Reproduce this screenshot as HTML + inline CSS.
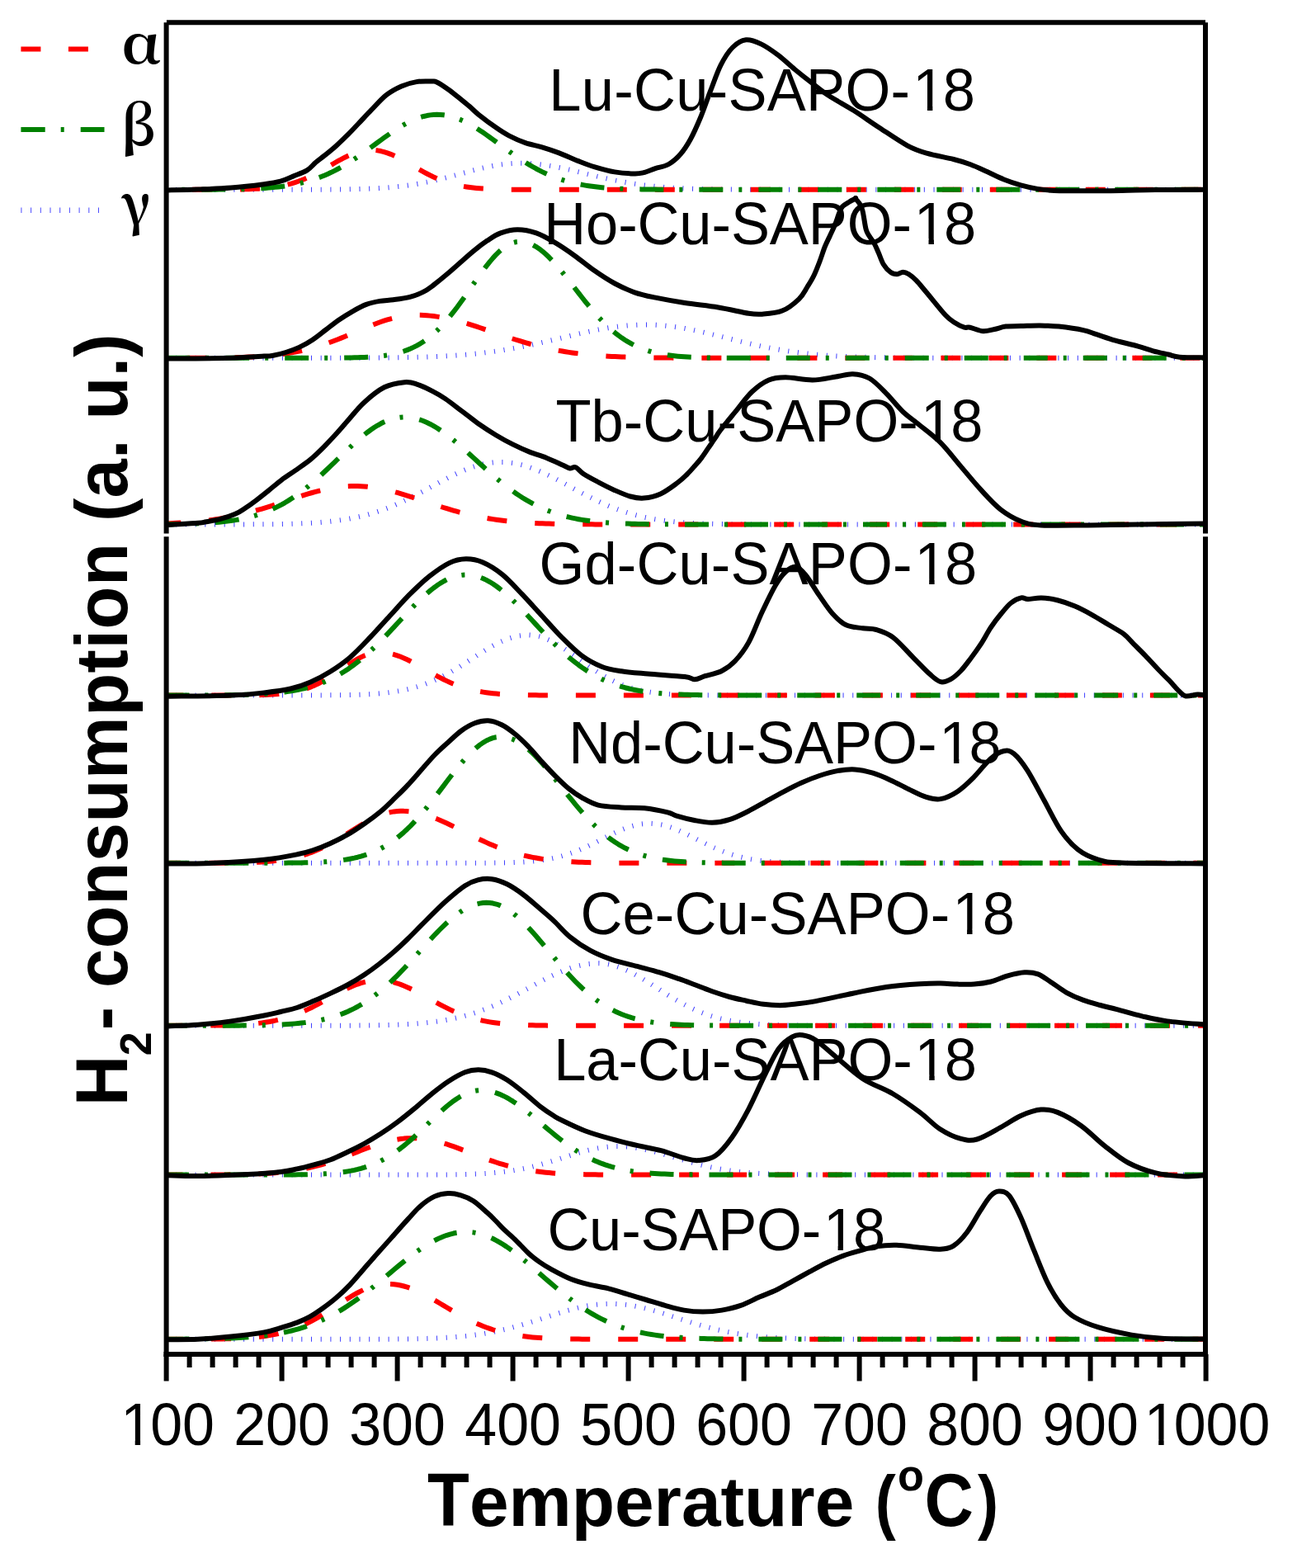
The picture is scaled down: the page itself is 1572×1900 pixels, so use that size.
<!DOCTYPE html><html><head><meta charset="utf-8"><style>html,body{margin:0;padding:0;background:#fff;}svg{display:block;}</style></head><body>
<svg width="1572" height="1900" viewBox="0 0 1572 1900">
<rect width="1572" height="1900" fill="#fff"/>
<g fill="none" stroke-linecap="butt" stroke-linejoin="round">
<path d="M201.5,229.80 L241.5,229.80 L281.5,229.80 L321.5,229.80 L325.5,229.80 L329.5,229.80 L333.5,229.79 L337.5,229.79 L341.5,229.79 L345.5,229.79 L349.5,229.79 L353.5,229.78 L357.5,229.78 L361.5,229.77 L365.5,229.77 L369.5,229.76 L373.5,229.75 L377.5,229.74 L381.5,229.73 L385.5,229.71 L389.5,229.70 L393.5,229.68 L397.5,229.65 L401.5,229.62 L405.5,229.58 L409.5,229.54 L413.5,229.49 L417.5,229.44 L421.5,229.37 L425.5,229.29 L429.5,229.21 L433.5,229.11 L437.5,228.99 L441.5,228.86 L445.5,228.71 L449.5,228.54 L453.5,228.34 L457.5,228.13 L461.5,227.89 L465.5,227.61 L469.5,227.31 L473.5,226.98 L477.5,226.61 L481.5,226.21 L485.5,225.77 L489.5,225.28 L493.5,224.76 L497.5,224.19 L501.5,223.58 L505.5,222.92 L509.5,222.22 L513.5,221.47 L517.5,220.68 L521.5,219.84 L525.5,218.97 L529.5,218.05 L533.5,217.09 L537.5,216.10 L541.5,215.08 L545.5,214.04 L549.5,212.97 L553.5,211.89 L557.5,210.80 L561.5,209.71 L565.5,208.62 L569.5,207.54 L573.5,206.48 L577.5,205.45 L581.5,204.46 L585.5,203.51 L589.5,202.60 L593.5,201.76 L597.5,200.98 L601.5,200.28 L605.5,199.65 L609.5,199.11 L613.5,198.65 L617.5,198.29 L621.5,198.03 L625.5,197.86 L629.5,197.80 L633.5,197.83 L637.5,197.94 L641.5,198.13 L645.5,198.40 L649.5,198.74 L653.5,199.15 L657.5,199.64 L661.5,200.19 L665.5,200.80 L669.5,201.47 L673.5,202.20 L677.5,202.97 L681.5,203.79 L685.5,204.64 L689.5,205.53 L693.5,206.45 L697.5,207.38 L701.5,208.34 L705.5,209.30 L709.5,210.27 L713.5,211.24 L717.5,212.21 L721.5,213.16 L725.5,214.11 L729.5,215.03 L733.5,215.94 L737.5,216.83 L741.5,217.68 L745.5,218.51 L749.5,219.31 L753.5,220.08 L757.5,220.81 L761.5,221.51 L765.5,222.18 L769.5,222.80 L773.5,223.40 L777.5,223.95 L781.5,224.47 L785.5,224.96 L789.5,225.41 L793.5,225.84 L797.5,226.23 L801.5,226.58 L805.5,226.92 L809.5,227.22 L813.5,227.49 L817.5,227.75 L821.5,227.98 L825.5,228.18 L829.5,228.37 L833.5,228.54 L837.5,228.69 L841.5,228.83 L845.5,228.95 L849.5,229.06 L853.5,229.15 L857.5,229.24 L861.5,229.31 L865.5,229.38 L869.5,229.44 L873.5,229.49 L877.5,229.53 L881.5,229.57 L885.5,229.60 L889.5,229.63 L893.5,229.66 L897.5,229.68 L901.5,229.70 L905.5,229.71 L909.5,229.73 L913.5,229.74 L917.5,229.75 L921.5,229.76 L925.5,229.77 L929.5,229.77 L933.5,229.78 L937.5,229.78 L941.5,229.78 L945.5,229.79 L949.5,229.79 L953.5,229.79 L993.5,229.80 L1033.5,229.80 L1073.5,229.80 L1113.5,229.80 L1153.5,229.80 L1193.5,229.80 L1233.5,229.80 L1273.5,229.80 L1313.5,229.80 L1353.5,229.80 L1393.5,229.80 L1433.5,229.80 L1461.0,229.80" stroke="#0000ff" stroke-width="6.0" stroke-dasharray="1 10.7" opacity="0.75"/>
<path d="M201.5,229.80 L241.5,229.79 L281.5,229.64 L285.5,229.59 L289.5,229.52 L293.5,229.44 L297.5,229.34 L301.5,229.22 L305.5,229.06 L309.5,228.87 L313.5,228.64 L317.5,228.37 L321.5,228.03 L325.5,227.64 L329.5,227.17 L333.5,226.62 L337.5,225.98 L341.5,225.24 L345.5,224.40 L349.5,223.43 L353.5,222.35 L357.5,221.13 L361.5,219.78 L365.5,218.29 L369.5,216.67 L373.5,214.91 L377.5,213.02 L381.5,211.02 L385.5,208.91 L389.5,206.72 L393.5,204.45 L397.5,202.14 L401.5,199.81 L405.5,197.50 L409.5,195.22 L413.5,193.03 L417.5,190.94 L421.5,189.00 L425.5,187.23 L429.5,185.67 L433.5,184.34 L437.5,183.28 L441.5,182.49 L445.5,181.99 L449.5,181.80 L453.5,181.92 L457.5,182.34 L461.5,183.05 L465.5,184.05 L469.5,185.32 L473.5,186.82 L477.5,188.54 L481.5,190.44 L485.5,192.49 L489.5,194.67 L493.5,196.92 L497.5,199.23 L501.5,201.56 L505.5,203.88 L509.5,206.16 L513.5,208.37 L517.5,210.50 L521.5,212.53 L525.5,214.45 L529.5,216.24 L533.5,217.90 L537.5,219.42 L541.5,220.80 L545.5,222.05 L549.5,223.17 L553.5,224.17 L557.5,225.04 L561.5,225.81 L565.5,226.47 L569.5,227.04 L573.5,227.53 L577.5,227.94 L581.5,228.29 L585.5,228.58 L589.5,228.82 L593.5,229.02 L597.5,229.18 L601.5,229.31 L605.5,229.42 L609.5,229.50 L613.5,229.57 L617.5,229.62 L621.5,229.67 L625.5,229.70 L629.5,229.72 L633.5,229.74 L637.5,229.76 L641.5,229.77 L645.5,229.78 L649.5,229.78 L653.5,229.79 L693.5,229.80 L733.5,229.80 L773.5,229.80 L813.5,229.80 L853.5,229.80 L893.5,229.80 L933.5,229.80 L973.5,229.80 L1013.5,229.80 L1053.5,229.80 L1093.5,229.80 L1133.5,229.80 L1173.5,229.80 L1213.5,229.80 L1253.5,229.80 L1293.5,229.80 L1333.5,229.80 L1373.5,229.80 L1413.5,229.80 L1453.5,229.80 L1461.0,229.80" stroke="#ff0000" stroke-width="6.0" stroke-dasharray="24 34" stroke-dashoffset="26.4"/>
<path d="M201.5,229.79 L241.5,229.74 L245.5,229.73 L249.5,229.72 L253.5,229.70 L257.5,229.68 L261.5,229.65 L265.5,229.62 L269.5,229.58 L273.5,229.54 L277.5,229.49 L281.5,229.42 L285.5,229.35 L289.5,229.27 L293.5,229.17 L297.5,229.05 L301.5,228.92 L305.5,228.77 L309.5,228.59 L313.5,228.39 L317.5,228.16 L321.5,227.89 L325.5,227.59 L329.5,227.25 L333.5,226.86 L337.5,226.42 L341.5,225.93 L345.5,225.38 L349.5,224.77 L353.5,224.09 L357.5,223.34 L361.5,222.51 L365.5,221.59 L369.5,220.58 L373.5,219.48 L377.5,218.29 L381.5,216.98 L385.5,215.58 L389.5,214.06 L393.5,212.43 L397.5,210.69 L401.5,208.83 L405.5,206.86 L409.5,204.77 L413.5,202.57 L417.5,200.26 L421.5,197.84 L425.5,195.33 L429.5,192.72 L433.5,190.03 L437.5,187.27 L441.5,184.44 L445.5,181.56 L449.5,178.65 L453.5,175.71 L457.5,172.77 L461.5,169.83 L465.5,166.93 L469.5,164.07 L473.5,161.28 L477.5,158.57 L481.5,155.97 L485.5,153.49 L489.5,151.15 L493.5,148.96 L497.5,146.96 L501.5,145.14 L505.5,143.53 L509.5,142.14 L513.5,140.98 L517.5,140.06 L521.5,139.38 L525.5,138.96 L529.5,138.80 L533.5,138.90 L537.5,139.25 L541.5,139.86 L545.5,140.72 L549.5,141.82 L553.5,143.16 L557.5,144.72 L561.5,146.48 L565.5,148.44 L569.5,150.58 L573.5,152.89 L577.5,155.34 L581.5,157.91 L585.5,160.60 L589.5,163.37 L593.5,166.21 L597.5,169.11 L601.5,172.03 L605.5,174.97 L609.5,177.91 L613.5,180.84 L617.5,183.72 L621.5,186.56 L625.5,189.35 L629.5,192.06 L633.5,194.68 L637.5,197.22 L641.5,199.66 L645.5,202.00 L649.5,204.23 L653.5,206.34 L657.5,208.35 L661.5,210.23 L665.5,212.01 L669.5,213.66 L673.5,215.21 L677.5,216.64 L681.5,217.97 L685.5,219.19 L689.5,220.32 L693.5,221.35 L697.5,222.28 L701.5,223.14 L705.5,223.91 L709.5,224.61 L713.5,225.24 L717.5,225.80 L721.5,226.31 L725.5,226.75 L729.5,227.15 L733.5,227.51 L737.5,227.82 L741.5,228.09 L745.5,228.33 L749.5,228.54 L753.5,228.73 L757.5,228.89 L761.5,229.02 L765.5,229.14 L769.5,229.24 L773.5,229.33 L777.5,229.41 L781.5,229.47 L785.5,229.53 L789.5,229.57 L793.5,229.61 L797.5,229.64 L801.5,229.67 L805.5,229.69 L809.5,229.71 L813.5,229.73 L817.5,229.74 L821.5,229.75 L825.5,229.76 L829.5,229.77 L833.5,229.77 L873.5,229.80 L913.5,229.80 L953.5,229.80 L993.5,229.80 L1033.5,229.80 L1073.5,229.80 L1113.5,229.80 L1153.5,229.80 L1193.5,229.80 L1233.5,229.80 L1273.5,229.80 L1313.5,229.80 L1353.5,229.80 L1393.5,229.80 L1433.5,229.80 L1461.0,229.80" stroke="#008000" stroke-width="6.0" stroke-dasharray="29 19 4 20" stroke-dashoffset="29.2"/>
<path d="M201.5,433.80 L241.5,433.80 L281.5,433.80 L321.5,433.80 L361.5,433.79 L401.5,433.76 L405.5,433.76 L409.5,433.75 L413.5,433.74 L417.5,433.73 L421.5,433.72 L425.5,433.71 L429.5,433.70 L433.5,433.69 L437.5,433.67 L441.5,433.65 L445.5,433.63 L449.5,433.61 L453.5,433.58 L457.5,433.55 L461.5,433.52 L465.5,433.48 L469.5,433.44 L473.5,433.40 L477.5,433.35 L481.5,433.29 L485.5,433.23 L489.5,433.16 L493.5,433.08 L497.5,433.00 L501.5,432.91 L505.5,432.80 L509.5,432.69 L513.5,432.57 L517.5,432.44 L521.5,432.29 L525.5,432.14 L529.5,431.96 L533.5,431.78 L537.5,431.57 L541.5,431.36 L545.5,431.12 L549.5,430.87 L553.5,430.59 L557.5,430.30 L561.5,429.99 L565.5,429.65 L569.5,429.29 L573.5,428.91 L577.5,428.50 L581.5,428.07 L585.5,427.62 L589.5,427.13 L593.5,426.63 L597.5,426.09 L601.5,425.53 L605.5,424.93 L609.5,424.32 L613.5,423.67 L617.5,422.99 L621.5,422.29 L625.5,421.57 L629.5,420.81 L633.5,420.03 L637.5,419.23 L641.5,418.40 L645.5,417.56 L649.5,416.69 L653.5,415.80 L657.5,414.90 L661.5,413.98 L665.5,413.04 L669.5,412.10 L673.5,411.15 L677.5,410.20 L681.5,409.24 L685.5,408.28 L689.5,407.32 L693.5,406.38 L697.5,405.44 L701.5,404.51 L705.5,403.60 L709.5,402.71 L713.5,401.85 L717.5,401.01 L721.5,400.20 L725.5,399.42 L729.5,398.68 L733.5,397.98 L737.5,397.32 L741.5,396.70 L745.5,396.13 L749.5,395.62 L753.5,395.15 L757.5,394.74 L761.5,394.39 L765.5,394.09 L769.5,393.85 L773.5,393.67 L777.5,393.56 L781.5,393.50 L785.5,393.51 L789.5,393.59 L793.5,393.74 L797.5,393.95 L801.5,394.23 L805.5,394.57 L809.5,394.98 L813.5,395.44 L817.5,395.97 L821.5,396.55 L825.5,397.19 L829.5,397.87 L833.5,398.61 L837.5,399.38 L841.5,400.20 L845.5,401.05 L849.5,401.94 L853.5,402.85 L857.5,403.79 L861.5,404.75 L865.5,405.73 L869.5,406.72 L873.5,407.72 L877.5,408.73 L881.5,409.73 L885.5,410.74 L889.5,411.74 L893.5,412.74 L897.5,413.72 L901.5,414.69 L905.5,415.65 L909.5,416.58 L913.5,417.50 L917.5,418.39 L921.5,419.26 L925.5,420.10 L929.5,420.92 L933.5,421.71 L937.5,422.47 L941.5,423.19 L945.5,423.89 L949.5,424.56 L953.5,425.20 L957.5,425.81 L961.5,426.39 L965.5,426.93 L969.5,427.45 L973.5,427.94 L977.5,428.40 L981.5,428.83 L985.5,429.24 L989.5,429.62 L993.5,429.97 L997.5,430.30 L1001.5,430.61 L1005.5,430.90 L1009.5,431.16 L1013.5,431.41 L1017.5,431.63 L1021.5,431.84 L1025.5,432.03 L1029.5,432.20 L1033.5,432.36 L1037.5,432.51 L1041.5,432.64 L1045.5,432.76 L1049.5,432.87 L1053.5,432.97 L1057.5,433.06 L1061.5,433.15 L1065.5,433.22 L1069.5,433.29 L1073.5,433.35 L1077.5,433.40 L1081.5,433.45 L1085.5,433.49 L1089.5,433.53 L1093.5,433.56 L1097.5,433.59 L1101.5,433.62 L1105.5,433.64 L1109.5,433.66 L1113.5,433.68 L1117.5,433.69 L1121.5,433.71 L1125.5,433.72 L1129.5,433.73 L1133.5,433.74 L1137.5,433.75 L1141.5,433.76 L1145.5,433.76 L1149.5,433.77 L1153.5,433.77 L1157.5,433.78 L1161.5,433.78 L1165.5,433.78 L1169.5,433.79 L1173.5,433.79 L1177.5,433.79 L1181.5,433.79 L1185.5,433.79 L1189.5,433.79 L1193.5,433.79 L1233.5,433.80 L1273.5,433.80 L1313.5,433.80 L1353.5,433.80 L1393.5,433.80 L1433.5,433.80 L1461.0,433.80" stroke="#0000ff" stroke-width="6.0" stroke-dasharray="1 10.7" opacity="0.75"/>
<path d="M201.5,433.79 L205.5,433.79 L209.5,433.78 L213.5,433.78 L217.5,433.77 L221.5,433.77 L225.5,433.76 L229.5,433.75 L233.5,433.74 L237.5,433.72 L241.5,433.71 L245.5,433.69 L249.5,433.67 L253.5,433.64 L257.5,433.61 L261.5,433.57 L265.5,433.52 L269.5,433.47 L273.5,433.41 L277.5,433.34 L281.5,433.26 L285.5,433.16 L289.5,433.05 L293.5,432.92 L297.5,432.78 L301.5,432.61 L305.5,432.43 L309.5,432.21 L313.5,431.97 L317.5,431.70 L321.5,431.40 L325.5,431.06 L329.5,430.68 L333.5,430.25 L337.5,429.79 L341.5,429.27 L345.5,428.70 L349.5,428.08 L353.5,427.40 L357.5,426.67 L361.5,425.87 L365.5,425.00 L369.5,424.07 L373.5,423.08 L377.5,422.01 L381.5,420.88 L385.5,419.68 L389.5,418.42 L393.5,417.09 L397.5,415.70 L401.5,414.25 L405.5,412.74 L409.5,411.19 L413.5,409.59 L417.5,407.95 L421.5,406.29 L425.5,404.60 L429.5,402.90 L433.5,401.20 L437.5,399.50 L441.5,397.82 L445.5,396.16 L449.5,394.55 L453.5,392.98 L457.5,391.48 L461.5,390.05 L465.5,388.70 L469.5,387.45 L473.5,386.30 L477.5,385.27 L481.5,384.36 L485.5,383.57 L489.5,382.93 L493.5,382.42 L497.5,382.07 L501.5,381.86 L505.5,381.80 L509.5,381.86 L513.5,382.02 L517.5,382.28 L521.5,382.63 L525.5,383.08 L529.5,383.61 L533.5,384.24 L537.5,384.95 L541.5,385.74 L545.5,386.60 L549.5,387.54 L553.5,388.55 L557.5,389.61 L561.5,390.74 L565.5,391.91 L569.5,393.13 L573.5,394.39 L577.5,395.68 L581.5,397.00 L585.5,398.34 L589.5,399.70 L593.5,401.06 L597.5,402.43 L601.5,403.80 L605.5,405.17 L609.5,406.52 L613.5,407.86 L617.5,409.18 L621.5,410.48 L625.5,411.75 L629.5,412.99 L633.5,414.19 L637.5,415.37 L641.5,416.50 L645.5,417.60 L649.5,418.65 L653.5,419.67 L657.5,420.64 L661.5,421.56 L665.5,422.45 L669.5,423.29 L673.5,424.08 L677.5,424.83 L681.5,425.54 L685.5,426.21 L689.5,426.84 L693.5,427.43 L697.5,427.97 L701.5,428.49 L705.5,428.96 L709.5,429.40 L713.5,429.81 L717.5,430.19 L721.5,430.54 L725.5,430.86 L729.5,431.15 L733.5,431.42 L737.5,431.67 L741.5,431.89 L745.5,432.09 L749.5,432.28 L753.5,432.45 L757.5,432.60 L761.5,432.73 L765.5,432.86 L769.5,432.97 L773.5,433.06 L777.5,433.15 L781.5,433.23 L785.5,433.30 L789.5,433.36 L793.5,433.42 L797.5,433.47 L801.5,433.51 L805.5,433.55 L809.5,433.58 L813.5,433.61 L817.5,433.64 L821.5,433.66 L825.5,433.68 L829.5,433.70 L833.5,433.71 L837.5,433.72 L841.5,433.74 L845.5,433.74 L849.5,433.75 L853.5,433.76 L857.5,433.77 L861.5,433.77 L865.5,433.78 L869.5,433.78 L873.5,433.78 L913.5,433.80 L953.5,433.80 L993.5,433.80 L1033.5,433.80 L1073.5,433.80 L1113.5,433.80 L1153.5,433.80 L1193.5,433.80 L1233.5,433.80 L1273.5,433.80 L1313.5,433.80 L1353.5,433.80 L1393.5,433.80 L1433.5,433.80 L1461.0,433.80" stroke="#ff0000" stroke-width="6.0" stroke-dasharray="24 34" stroke-dashoffset="32.9"/>
<path d="M201.5,433.80 L241.5,433.80 L281.5,433.80 L321.5,433.80 L361.5,433.80 L401.5,433.72 L405.5,433.70 L409.5,433.67 L413.5,433.63 L417.5,433.59 L421.5,433.53 L425.5,433.45 L429.5,433.36 L433.5,433.25 L437.5,433.11 L441.5,432.94 L445.5,432.74 L449.5,432.49 L453.5,432.19 L457.5,431.84 L461.5,431.41 L465.5,430.91 L469.5,430.31 L473.5,429.62 L477.5,428.81 L481.5,427.86 L485.5,426.77 L489.5,425.52 L493.5,424.10 L497.5,422.47 L501.5,420.64 L505.5,418.58 L509.5,416.28 L513.5,413.73 L517.5,410.91 L521.5,407.81 L525.5,404.42 L529.5,400.75 L533.5,396.79 L537.5,392.55 L541.5,388.02 L545.5,383.24 L549.5,378.21 L553.5,372.97 L557.5,367.53 L561.5,361.94 L565.5,356.23 L569.5,350.45 L573.5,344.66 L577.5,338.90 L581.5,333.23 L585.5,327.71 L589.5,322.40 L593.5,317.36 L597.5,312.65 L601.5,308.33 L605.5,304.45 L609.5,301.06 L613.5,298.21 L617.5,295.93 L621.5,294.26 L625.5,293.21 L629.5,292.81 L633.5,293.00 L637.5,293.71 L641.5,294.92 L645.5,296.64 L649.5,298.82 L653.5,301.46 L657.5,304.52 L661.5,307.98 L665.5,311.79 L669.5,315.92 L673.5,320.33 L677.5,324.97 L681.5,329.81 L685.5,334.79 L689.5,339.88 L693.5,345.04 L697.5,350.22 L701.5,355.39 L705.5,360.51 L709.5,365.54 L713.5,370.46 L717.5,375.25 L721.5,379.87 L725.5,384.30 L729.5,388.54 L733.5,392.57 L737.5,396.38 L741.5,399.96 L745.5,403.31 L749.5,406.43 L753.5,409.32 L757.5,411.98 L761.5,414.43 L765.5,416.66 L769.5,418.69 L773.5,420.54 L777.5,422.19 L781.5,423.68 L785.5,425.01 L789.5,426.20 L793.5,427.24 L797.5,428.17 L801.5,428.98 L805.5,429.69 L809.5,430.31 L813.5,430.84 L817.5,431.31 L821.5,431.71 L825.5,432.05 L829.5,432.34 L833.5,432.58 L837.5,432.79 L841.5,432.97 L845.5,433.12 L849.5,433.24 L853.5,433.34 L857.5,433.43 L861.5,433.50 L865.5,433.56 L869.5,433.61 L873.5,433.64 L877.5,433.68 L881.5,433.70 L885.5,433.72 L889.5,433.74 L893.5,433.75 L897.5,433.76 L937.5,433.80 L977.5,433.80 L1017.5,433.80 L1057.5,433.80 L1097.5,433.80 L1137.5,433.80 L1177.5,433.80 L1217.5,433.80 L1257.5,433.80 L1297.5,433.80 L1337.5,433.80 L1377.5,433.80 L1417.5,433.80 L1457.5,433.80 L1461.0,433.80" stroke="#008000" stroke-width="6.0" stroke-dasharray="29 19 4 20" stroke-dashoffset="0.3"/>
<path d="M201.5,635.50 L241.5,635.49 L281.5,635.46 L285.5,635.45 L289.5,635.44 L293.5,635.43 L297.5,635.41 L301.5,635.40 L305.5,635.38 L309.5,635.36 L313.5,635.33 L317.5,635.30 L321.5,635.27 L325.5,635.23 L329.5,635.18 L333.5,635.12 L337.5,635.06 L341.5,634.99 L345.5,634.91 L349.5,634.81 L353.5,634.71 L357.5,634.58 L361.5,634.45 L365.5,634.29 L369.5,634.11 L373.5,633.91 L377.5,633.69 L381.5,633.44 L385.5,633.17 L389.5,632.86 L393.5,632.51 L397.5,632.13 L401.5,631.71 L405.5,631.25 L409.5,630.74 L413.5,630.18 L417.5,629.57 L421.5,628.91 L425.5,628.19 L429.5,627.40 L433.5,626.56 L437.5,625.64 L441.5,624.66 L445.5,623.61 L449.5,622.48 L453.5,621.28 L457.5,620.01 L461.5,618.66 L465.5,617.23 L469.5,615.73 L473.5,614.15 L477.5,612.49 L481.5,610.77 L485.5,608.98 L489.5,607.12 L493.5,605.20 L497.5,603.22 L501.5,601.19 L505.5,599.12 L509.5,597.01 L513.5,594.86 L517.5,592.70 L521.5,590.52 L525.5,588.34 L529.5,586.17 L533.5,584.01 L537.5,581.88 L541.5,579.79 L545.5,577.75 L549.5,575.77 L553.5,573.86 L557.5,572.03 L561.5,570.30 L565.5,568.67 L569.5,567.16 L573.5,565.77 L577.5,564.52 L581.5,563.40 L585.5,562.43 L589.5,561.62 L593.5,560.97 L597.5,560.48 L601.5,560.16 L605.5,560.01 L609.5,560.03 L613.5,560.23 L617.5,560.59 L621.5,561.12 L625.5,561.81 L629.5,562.66 L633.5,563.67 L637.5,564.82 L641.5,566.11 L645.5,567.53 L649.5,569.07 L653.5,570.73 L657.5,572.48 L661.5,574.33 L665.5,576.26 L669.5,578.26 L673.5,580.31 L677.5,582.41 L681.5,584.55 L685.5,586.71 L689.5,588.89 L693.5,591.07 L697.5,593.24 L701.5,595.40 L705.5,597.54 L709.5,599.64 L713.5,601.70 L717.5,603.72 L721.5,605.68 L725.5,607.59 L729.5,609.43 L733.5,611.21 L737.5,612.91 L741.5,614.55 L745.5,616.11 L749.5,617.59 L753.5,619.00 L757.5,620.33 L761.5,621.59 L765.5,622.77 L769.5,623.88 L773.5,624.91 L777.5,625.88 L781.5,626.77 L785.5,627.60 L789.5,628.37 L793.5,629.08 L797.5,629.73 L801.5,630.33 L805.5,630.87 L809.5,631.37 L813.5,631.82 L817.5,632.23 L821.5,632.60 L825.5,632.94 L829.5,633.24 L833.5,633.51 L837.5,633.75 L841.5,633.97 L845.5,634.16 L849.5,634.33 L853.5,634.48 L857.5,634.62 L861.5,634.73 L865.5,634.84 L869.5,634.93 L873.5,635.01 L877.5,635.08 L881.5,635.14 L885.5,635.19 L889.5,635.24 L893.5,635.28 L897.5,635.31 L901.5,635.34 L905.5,635.36 L909.5,635.38 L913.5,635.40 L917.5,635.42 L921.5,635.43 L925.5,635.44 L929.5,635.45 L933.5,635.46 L937.5,635.47 L941.5,635.47 L945.5,635.48 L985.5,635.50 L1025.5,635.50 L1065.5,635.50 L1105.5,635.50 L1145.5,635.50 L1185.5,635.50 L1225.5,635.50 L1265.5,635.50 L1305.5,635.50 L1345.5,635.50 L1385.5,635.50 L1425.5,635.50 L1461.0,635.50" stroke="#0000ff" stroke-width="6.0" stroke-dasharray="1 10.7" opacity="0.75"/>
<path d="M201.5,634.35 L205.5,634.19 L209.5,634.02 L213.5,633.82 L217.5,633.60 L221.5,633.36 L225.5,633.10 L229.5,632.81 L233.5,632.49 L237.5,632.13 L241.5,631.75 L245.5,631.33 L249.5,630.88 L253.5,630.39 L257.5,629.85 L261.5,629.28 L265.5,628.67 L269.5,628.01 L273.5,627.30 L277.5,626.55 L281.5,625.75 L285.5,624.91 L289.5,624.02 L293.5,623.08 L297.5,622.10 L301.5,621.07 L305.5,620.00 L309.5,618.88 L313.5,617.73 L317.5,616.53 L321.5,615.31 L325.5,614.05 L329.5,612.77 L333.5,611.46 L337.5,610.14 L341.5,608.81 L345.5,607.46 L349.5,606.12 L353.5,604.78 L357.5,603.46 L361.5,602.15 L365.5,600.87 L369.5,599.62 L373.5,598.41 L377.5,597.25 L381.5,596.14 L385.5,595.09 L389.5,594.10 L393.5,593.19 L397.5,592.35 L401.5,591.60 L405.5,590.94 L409.5,590.36 L413.5,589.89 L417.5,589.51 L421.5,589.24 L425.5,589.07 L429.5,589.00 L433.5,589.04 L437.5,589.18 L441.5,589.43 L445.5,589.78 L449.5,590.24 L453.5,590.78 L457.5,591.43 L461.5,592.16 L465.5,592.97 L469.5,593.87 L473.5,594.84 L477.5,595.87 L481.5,596.97 L485.5,598.12 L489.5,599.32 L493.5,600.56 L497.5,601.83 L501.5,603.13 L505.5,604.45 L509.5,605.79 L513.5,607.13 L517.5,608.47 L521.5,609.81 L525.5,611.13 L529.5,612.44 L533.5,613.73 L537.5,615.00 L541.5,616.23 L545.5,617.43 L549.5,618.60 L553.5,619.72 L557.5,620.81 L561.5,621.85 L565.5,622.84 L569.5,623.79 L573.5,624.69 L577.5,625.55 L581.5,626.36 L585.5,627.12 L589.5,627.83 L593.5,628.51 L597.5,629.13 L601.5,629.72 L605.5,630.26 L609.5,630.76 L613.5,631.22 L617.5,631.65 L621.5,632.04 L625.5,632.40 L629.5,632.73 L633.5,633.03 L637.5,633.30 L641.5,633.55 L645.5,633.77 L649.5,633.97 L653.5,634.15 L657.5,634.31 L661.5,634.46 L665.5,634.59 L669.5,634.70 L673.5,634.80 L677.5,634.89 L681.5,634.97 L685.5,635.04 L689.5,635.11 L693.5,635.16 L697.5,635.21 L701.5,635.25 L705.5,635.29 L709.5,635.32 L713.5,635.34 L717.5,635.37 L721.5,635.39 L725.5,635.40 L729.5,635.42 L733.5,635.43 L737.5,635.44 L741.5,635.45 L745.5,635.46 L749.5,635.47 L753.5,635.47 L757.5,635.48 L761.5,635.48 L765.5,635.48 L769.5,635.49 L809.5,635.50 L849.5,635.50 L889.5,635.50 L929.5,635.50 L969.5,635.50 L1009.5,635.50 L1049.5,635.50 L1089.5,635.50 L1129.5,635.50 L1169.5,635.50 L1209.5,635.50 L1249.5,635.50 L1289.5,635.50 L1329.5,635.50 L1369.5,635.50 L1409.5,635.50 L1449.5,635.50 L1461.0,635.50" stroke="#ff0000" stroke-width="6.0" stroke-dasharray="24 34" stroke-dashoffset="6.1"/>
<path d="M201.5,635.27 L205.5,635.23 L209.5,635.18 L213.5,635.12 L217.5,635.05 L221.5,634.97 L225.5,634.87 L229.5,634.76 L233.5,634.64 L237.5,634.49 L241.5,634.32 L245.5,634.13 L249.5,633.92 L253.5,633.67 L257.5,633.39 L261.5,633.07 L265.5,632.71 L269.5,632.30 L273.5,631.85 L277.5,631.34 L281.5,630.77 L285.5,630.13 L289.5,629.43 L293.5,628.65 L297.5,627.78 L301.5,626.83 L305.5,625.79 L309.5,624.64 L313.5,623.40 L317.5,622.04 L321.5,620.56 L325.5,618.97 L329.5,617.25 L333.5,615.39 L337.5,613.41 L341.5,611.28 L345.5,609.02 L349.5,606.62 L353.5,604.07 L357.5,601.39 L361.5,598.56 L365.5,595.60 L369.5,592.51 L373.5,589.29 L377.5,585.95 L381.5,582.49 L385.5,578.94 L389.5,575.29 L393.5,571.56 L397.5,567.77 L401.5,563.93 L405.5,560.06 L409.5,556.16 L413.5,552.28 L417.5,548.41 L421.5,544.58 L425.5,540.82 L429.5,537.14 L433.5,533.57 L437.5,530.13 L441.5,526.83 L445.5,523.71 L449.5,520.78 L453.5,518.05 L457.5,515.55 L461.5,513.30 L465.5,511.31 L469.5,509.60 L473.5,508.17 L477.5,507.04 L481.5,506.21 L485.5,505.70 L489.5,505.50 L493.5,505.61 L497.5,505.99 L501.5,506.66 L505.5,507.59 L509.5,508.80 L513.5,510.26 L517.5,511.98 L521.5,513.93 L525.5,516.12 L529.5,518.51 L533.5,521.11 L537.5,523.89 L541.5,526.84 L545.5,529.94 L549.5,533.17 L553.5,536.52 L557.5,539.96 L561.5,543.49 L565.5,547.07 L569.5,550.70 L573.5,554.36 L577.5,558.03 L581.5,561.69 L585.5,565.33 L589.5,568.93 L593.5,572.49 L597.5,575.98 L601.5,579.40 L605.5,582.74 L609.5,585.99 L613.5,589.14 L617.5,592.18 L621.5,595.11 L625.5,597.93 L629.5,600.62 L633.5,603.19 L637.5,605.63 L641.5,607.95 L645.5,610.15 L649.5,612.22 L653.5,614.17 L657.5,615.99 L661.5,617.70 L665.5,619.30 L669.5,620.78 L673.5,622.15 L677.5,623.43 L681.5,624.60 L685.5,625.69 L689.5,626.68 L693.5,627.59 L697.5,628.42 L701.5,629.18 L705.5,629.87 L709.5,630.50 L713.5,631.06 L717.5,631.57 L721.5,632.03 L725.5,632.44 L729.5,632.81 L733.5,633.14 L737.5,633.43 L741.5,633.69 L745.5,633.92 L749.5,634.13 L753.5,634.31 L757.5,634.47 L761.5,634.61 L765.5,634.73 L769.5,634.84 L773.5,634.93 L777.5,635.01 L781.5,635.08 L785.5,635.15 L789.5,635.20 L793.5,635.24 L797.5,635.28 L801.5,635.32 L805.5,635.34 L809.5,635.37 L813.5,635.39 L817.5,635.41 L821.5,635.42 L825.5,635.44 L829.5,635.45 L833.5,635.46 L837.5,635.46 L877.5,635.49 L917.5,635.50 L957.5,635.50 L997.5,635.50 L1037.5,635.50 L1077.5,635.50 L1117.5,635.50 L1157.5,635.50 L1197.5,635.50 L1237.5,635.50 L1277.5,635.50 L1317.5,635.50 L1357.5,635.50 L1397.5,635.50 L1437.5,635.50 L1461.0,635.50" stroke="#008000" stroke-width="6.0" stroke-dasharray="29 19 4 20" stroke-dashoffset="12.6"/>
<path d="M201.5,842.50 L241.5,842.50 L281.5,842.50 L321.5,842.50 L361.5,842.48 L401.5,842.34 L405.5,842.31 L409.5,842.27 L413.5,842.22 L417.5,842.15 L421.5,842.08 L425.5,842.00 L429.5,841.89 L433.5,841.77 L437.5,841.63 L441.5,841.47 L445.5,841.28 L449.5,841.06 L453.5,840.80 L457.5,840.51 L461.5,840.17 L465.5,839.79 L469.5,839.35 L473.5,838.86 L477.5,838.30 L481.5,837.67 L485.5,836.97 L489.5,836.20 L493.5,835.33 L497.5,834.38 L501.5,833.33 L505.5,832.18 L509.5,830.92 L513.5,829.56 L517.5,828.09 L521.5,826.51 L525.5,824.81 L529.5,823.01 L533.5,821.09 L537.5,819.06 L541.5,816.93 L545.5,814.71 L549.5,812.39 L553.5,810.00 L557.5,807.53 L561.5,805.01 L565.5,802.44 L569.5,799.85 L573.5,797.25 L577.5,794.65 L581.5,792.08 L585.5,789.55 L589.5,787.09 L593.5,784.72 L597.5,782.45 L601.5,780.31 L605.5,778.32 L609.5,776.49 L613.5,774.84 L617.5,773.39 L621.5,772.15 L625.5,771.14 L629.5,770.37 L633.5,769.83 L637.5,769.55 L641.5,769.52 L645.5,769.80 L649.5,770.38 L653.5,771.27 L657.5,772.44 L661.5,773.90 L665.5,775.61 L669.5,777.56 L673.5,779.72 L677.5,782.07 L681.5,784.58 L685.5,787.23 L689.5,789.98 L693.5,792.81 L697.5,795.69 L701.5,798.59 L705.5,801.48 L709.5,804.35 L713.5,807.18 L717.5,809.93 L721.5,812.60 L725.5,815.17 L729.5,817.62 L733.5,819.95 L737.5,822.15 L741.5,824.21 L745.5,826.14 L749.5,827.93 L753.5,829.57 L757.5,831.08 L761.5,832.46 L765.5,833.71 L769.5,834.83 L773.5,835.84 L777.5,836.75 L781.5,837.55 L785.5,838.25 L789.5,838.88 L793.5,839.42 L797.5,839.90 L801.5,840.31 L805.5,840.66 L809.5,840.96 L813.5,841.22 L817.5,841.44 L821.5,841.63 L825.5,841.78 L829.5,841.91 L833.5,842.02 L837.5,842.11 L841.5,842.19 L845.5,842.25 L849.5,842.30 L853.5,842.34 L857.5,842.37 L861.5,842.40 L865.5,842.42 L869.5,842.44 L873.5,842.45 L877.5,842.46 L881.5,842.47 L885.5,842.48 L889.5,842.48 L893.5,842.49 L897.5,842.49 L901.5,842.49 L905.5,842.49 L909.5,842.50 L913.5,842.50 L953.5,842.50 L993.5,842.50 L1033.5,842.50 L1073.5,842.50 L1113.5,842.50 L1153.5,842.50 L1193.5,842.50 L1233.5,842.50 L1273.5,842.50 L1313.5,842.50 L1353.5,842.50 L1393.5,842.50 L1433.5,842.50 L1461.0,842.50" stroke="#0000ff" stroke-width="6.0" stroke-dasharray="1 10.7" opacity="0.75"/>
<path d="M201.5,842.50 L241.5,842.50 L245.5,842.50 L249.5,842.50 L253.5,842.50 L257.5,842.50 L261.5,842.50 L265.5,842.49 L269.5,842.49 L273.5,842.49 L277.5,842.48 L281.5,842.47 L285.5,842.46 L289.5,842.45 L293.5,842.43 L297.5,842.40 L301.5,842.36 L305.5,842.32 L309.5,842.25 L313.5,842.17 L317.5,842.07 L321.5,841.94 L325.5,841.78 L329.5,841.57 L333.5,841.31 L337.5,841.00 L341.5,840.62 L345.5,840.15 L349.5,839.60 L353.5,838.94 L357.5,838.16 L361.5,837.25 L365.5,836.20 L369.5,834.99 L373.5,833.63 L377.5,832.09 L381.5,830.38 L385.5,828.49 L389.5,826.43 L393.5,824.21 L397.5,821.84 L401.5,819.34 L405.5,816.73 L409.5,814.04 L413.5,811.30 L417.5,808.57 L421.5,805.87 L425.5,803.25 L429.5,800.76 L433.5,798.45 L437.5,796.36 L441.5,794.54 L445.5,793.02 L449.5,791.84 L453.5,791.02 L457.5,790.58 L461.5,790.52 L465.5,790.76 L469.5,791.27 L473.5,792.04 L477.5,793.07 L481.5,794.33 L485.5,795.80 L489.5,797.47 L493.5,799.30 L497.5,801.28 L501.5,803.38 L505.5,805.57 L509.5,807.82 L513.5,810.10 L517.5,812.39 L521.5,814.67 L525.5,816.91 L529.5,819.10 L533.5,821.21 L537.5,823.23 L541.5,825.15 L545.5,826.97 L549.5,828.66 L553.5,830.24 L557.5,831.70 L561.5,833.03 L565.5,834.24 L569.5,835.33 L573.5,836.32 L577.5,837.19 L581.5,837.97 L585.5,838.65 L589.5,839.25 L593.5,839.77 L597.5,840.22 L601.5,840.60 L605.5,840.93 L609.5,841.21 L613.5,841.44 L617.5,841.64 L621.5,841.80 L625.5,841.94 L629.5,842.05 L633.5,842.14 L637.5,842.22 L641.5,842.28 L645.5,842.32 L649.5,842.36 L653.5,842.39 L657.5,842.42 L661.5,842.44 L665.5,842.45 L669.5,842.46 L673.5,842.47 L677.5,842.48 L681.5,842.48 L721.5,842.50 L761.5,842.50 L801.5,842.50 L841.5,842.50 L881.5,842.50 L921.5,842.50 L961.5,842.50 L1001.5,842.50 L1041.5,842.50 L1081.5,842.50 L1121.5,842.50 L1161.5,842.50 L1201.5,842.50 L1241.5,842.50 L1281.5,842.50 L1321.5,842.50 L1361.5,842.50 L1401.5,842.50 L1441.5,842.50 L1461.0,842.50" stroke="#ff0000" stroke-width="6.0" stroke-dasharray="24 34" stroke-dashoffset="3.2"/>
<path d="M201.5,842.49 L241.5,842.44 L245.5,842.43 L249.5,842.41 L253.5,842.39 L257.5,842.37 L261.5,842.35 L265.5,842.31 L269.5,842.28 L273.5,842.24 L277.5,842.19 L281.5,842.13 L285.5,842.06 L289.5,841.98 L293.5,841.89 L297.5,841.79 L301.5,841.66 L305.5,841.52 L309.5,841.36 L313.5,841.18 L317.5,840.96 L321.5,840.72 L325.5,840.45 L329.5,840.14 L333.5,839.79 L337.5,839.39 L341.5,838.94 L345.5,838.44 L349.5,837.88 L353.5,837.25 L357.5,836.56 L361.5,835.79 L365.5,834.93 L369.5,833.99 L373.5,832.95 L377.5,831.81 L381.5,830.56 L385.5,829.20 L389.5,827.72 L393.5,826.11 L397.5,824.37 L401.5,822.50 L405.5,820.48 L409.5,818.32 L413.5,816.01 L417.5,813.54 L421.5,810.93 L425.5,808.15 L429.5,805.22 L433.5,802.14 L437.5,798.91 L441.5,795.53 L445.5,792.01 L449.5,788.36 L453.5,784.58 L457.5,780.68 L461.5,776.67 L465.5,772.58 L469.5,768.40 L473.5,764.16 L477.5,759.88 L481.5,755.57 L485.5,751.25 L489.5,746.94 L493.5,742.67 L497.5,738.46 L501.5,734.32 L505.5,730.29 L509.5,726.39 L513.5,722.63 L517.5,719.05 L521.5,715.66 L525.5,712.49 L529.5,709.56 L533.5,706.88 L537.5,704.48 L541.5,702.37 L545.5,700.57 L549.5,699.09 L553.5,697.93 L557.5,697.11 L561.5,696.63 L565.5,696.50 L569.5,696.72 L573.5,697.28 L577.5,698.19 L581.5,699.43 L585.5,700.99 L589.5,702.87 L593.5,705.06 L597.5,707.53 L601.5,710.27 L605.5,713.26 L609.5,716.49 L613.5,719.93 L617.5,723.56 L621.5,727.35 L625.5,731.29 L629.5,735.35 L633.5,739.50 L637.5,743.73 L641.5,748.02 L645.5,752.33 L649.5,756.65 L653.5,760.95 L657.5,765.23 L661.5,769.45 L665.5,773.61 L669.5,777.68 L673.5,781.66 L677.5,785.53 L681.5,789.28 L685.5,792.91 L689.5,796.39 L693.5,799.73 L697.5,802.93 L701.5,805.97 L705.5,808.86 L709.5,811.59 L713.5,814.17 L717.5,816.60 L721.5,818.87 L725.5,821.00 L729.5,822.98 L733.5,824.82 L737.5,826.53 L741.5,828.10 L745.5,829.55 L749.5,830.88 L753.5,832.10 L757.5,833.22 L761.5,834.23 L765.5,835.15 L769.5,835.99 L773.5,836.74 L777.5,837.42 L781.5,838.03 L785.5,838.57 L789.5,839.06 L793.5,839.49 L797.5,839.88 L801.5,840.22 L805.5,840.52 L809.5,840.79 L813.5,841.02 L817.5,841.23 L821.5,841.40 L825.5,841.56 L829.5,841.70 L833.5,841.81 L837.5,841.92 L841.5,842.00 L845.5,842.08 L849.5,842.14 L853.5,842.20 L857.5,842.25 L861.5,842.29 L865.5,842.32 L869.5,842.35 L873.5,842.38 L877.5,842.40 L881.5,842.42 L885.5,842.43 L889.5,842.44 L893.5,842.45 L933.5,842.49 L973.5,842.50 L1013.5,842.50 L1053.5,842.50 L1093.5,842.50 L1133.5,842.50 L1173.5,842.50 L1213.5,842.50 L1253.5,842.50 L1293.5,842.50 L1333.5,842.50 L1373.5,842.50 L1413.5,842.50 L1453.5,842.50 L1461.0,842.50" stroke="#008000" stroke-width="6.0" stroke-dasharray="29 19 4 20" stroke-dashoffset="1.0"/>
<path d="M201.5,1045.80 L241.5,1045.80 L281.5,1045.80 L321.5,1045.80 L361.5,1045.80 L401.5,1045.80 L441.5,1045.80 L481.5,1045.80 L521.5,1045.80 L561.5,1045.78 L565.5,1045.77 L569.5,1045.77 L573.5,1045.76 L577.5,1045.74 L581.5,1045.73 L585.5,1045.71 L589.5,1045.68 L593.5,1045.65 L597.5,1045.61 L601.5,1045.56 L605.5,1045.50 L609.5,1045.42 L613.5,1045.33 L617.5,1045.22 L621.5,1045.09 L625.5,1044.93 L629.5,1044.74 L633.5,1044.52 L637.5,1044.26 L641.5,1043.95 L645.5,1043.60 L649.5,1043.18 L653.5,1042.71 L657.5,1042.17 L661.5,1041.55 L665.5,1040.85 L669.5,1040.07 L673.5,1039.19 L677.5,1038.22 L681.5,1037.14 L685.5,1035.97 L689.5,1034.69 L693.5,1033.30 L697.5,1031.81 L701.5,1030.22 L705.5,1028.53 L709.5,1026.75 L713.5,1024.90 L717.5,1022.97 L721.5,1021.00 L725.5,1018.98 L729.5,1016.94 L733.5,1014.90 L737.5,1012.88 L741.5,1010.90 L745.5,1008.98 L749.5,1007.14 L753.5,1005.41 L757.5,1003.82 L761.5,1002.37 L765.5,1001.10 L769.5,1000.01 L773.5,999.13 L777.5,998.46 L781.5,998.02 L785.5,997.82 L789.5,997.85 L793.5,998.11 L797.5,998.61 L801.5,999.33 L805.5,1000.26 L809.5,1001.40 L813.5,1002.72 L817.5,1004.20 L821.5,1005.83 L825.5,1007.59 L829.5,1009.45 L833.5,1011.39 L837.5,1013.38 L841.5,1015.41 L845.5,1017.45 L849.5,1019.49 L853.5,1021.50 L857.5,1023.46 L861.5,1025.37 L865.5,1027.21 L869.5,1028.96 L873.5,1030.62 L877.5,1032.19 L881.5,1033.66 L885.5,1035.02 L889.5,1036.27 L893.5,1037.42 L897.5,1038.47 L901.5,1039.42 L905.5,1040.27 L909.5,1041.03 L913.5,1041.71 L917.5,1042.31 L921.5,1042.83 L925.5,1043.29 L929.5,1043.69 L933.5,1044.03 L937.5,1044.33 L941.5,1044.58 L945.5,1044.79 L949.5,1044.98 L953.5,1045.13 L957.5,1045.25 L961.5,1045.36 L965.5,1045.44 L969.5,1045.51 L973.5,1045.57 L977.5,1045.62 L981.5,1045.66 L985.5,1045.69 L989.5,1045.71 L993.5,1045.73 L997.5,1045.75 L1001.5,1045.76 L1005.5,1045.77 L1009.5,1045.78 L1013.5,1045.78 L1017.5,1045.79 L1057.5,1045.80 L1097.5,1045.80 L1137.5,1045.80 L1177.5,1045.80 L1217.5,1045.80 L1257.5,1045.80 L1297.5,1045.80 L1337.5,1045.80 L1377.5,1045.80 L1417.5,1045.80 L1457.5,1045.80 L1461.0,1045.80" stroke="#0000ff" stroke-width="6.0" stroke-dasharray="1 10.7" opacity="0.75"/>
<path d="M201.5,1045.80 L205.5,1045.80 L209.5,1045.80 L213.5,1045.80 L217.5,1045.80 L221.5,1045.79 L225.5,1045.79 L229.5,1045.79 L233.5,1045.79 L237.5,1045.78 L241.5,1045.78 L245.5,1045.77 L249.5,1045.77 L253.5,1045.76 L257.5,1045.74 L261.5,1045.73 L265.5,1045.71 L269.5,1045.68 L273.5,1045.65 L277.5,1045.62 L281.5,1045.57 L285.5,1045.52 L289.5,1045.45 L293.5,1045.37 L297.5,1045.27 L301.5,1045.15 L305.5,1045.01 L309.5,1044.84 L313.5,1044.64 L317.5,1044.41 L321.5,1044.14 L325.5,1043.82 L329.5,1043.46 L333.5,1043.03 L337.5,1042.55 L341.5,1041.99 L345.5,1041.36 L349.5,1040.65 L353.5,1039.85 L357.5,1038.95 L361.5,1037.95 L365.5,1036.85 L369.5,1035.63 L373.5,1034.30 L377.5,1032.85 L381.5,1031.28 L385.5,1029.58 L389.5,1027.77 L393.5,1025.85 L397.5,1023.81 L401.5,1021.66 L405.5,1019.43 L409.5,1017.10 L413.5,1014.71 L417.5,1012.26 L421.5,1009.78 L425.5,1007.28 L429.5,1004.77 L433.5,1002.30 L437.5,999.87 L441.5,997.52 L445.5,995.26 L449.5,993.13 L453.5,991.14 L457.5,989.31 L461.5,987.68 L465.5,986.26 L469.5,985.06 L473.5,984.11 L477.5,983.41 L481.5,982.97 L485.5,982.80 L489.5,982.87 L493.5,983.11 L497.5,983.52 L501.5,984.10 L505.5,984.84 L509.5,985.74 L513.5,986.79 L517.5,987.99 L521.5,989.31 L525.5,990.76 L529.5,992.32 L533.5,993.98 L537.5,995.72 L541.5,997.55 L545.5,999.43 L549.5,1001.36 L553.5,1003.33 L557.5,1005.33 L561.5,1007.34 L565.5,1009.35 L569.5,1011.35 L573.5,1013.33 L577.5,1015.28 L581.5,1017.19 L585.5,1019.06 L589.5,1020.88 L593.5,1022.63 L597.5,1024.32 L601.5,1025.95 L605.5,1027.50 L609.5,1028.98 L613.5,1030.38 L617.5,1031.70 L621.5,1032.94 L625.5,1034.11 L629.5,1035.20 L633.5,1036.22 L637.5,1037.16 L641.5,1038.03 L645.5,1038.84 L649.5,1039.57 L653.5,1040.25 L657.5,1040.86 L661.5,1041.42 L665.5,1041.93 L669.5,1042.38 L673.5,1042.80 L677.5,1043.17 L681.5,1043.50 L685.5,1043.79 L689.5,1044.05 L693.5,1044.28 L697.5,1044.49 L701.5,1044.67 L705.5,1044.83 L709.5,1044.97 L713.5,1045.09 L717.5,1045.19 L721.5,1045.28 L725.5,1045.36 L729.5,1045.43 L733.5,1045.49 L737.5,1045.54 L741.5,1045.58 L745.5,1045.61 L749.5,1045.65 L753.5,1045.67 L757.5,1045.69 L761.5,1045.71 L765.5,1045.73 L769.5,1045.74 L773.5,1045.75 L777.5,1045.76 L781.5,1045.77 L785.5,1045.77 L789.5,1045.78 L793.5,1045.78 L833.5,1045.80 L873.5,1045.80 L913.5,1045.80 L953.5,1045.80 L993.5,1045.80 L1033.5,1045.80 L1073.5,1045.80 L1113.5,1045.80 L1153.5,1045.80 L1193.5,1045.80 L1233.5,1045.80 L1273.5,1045.80 L1313.5,1045.80 L1353.5,1045.80 L1393.5,1045.80 L1433.5,1045.80 L1461.0,1045.80" stroke="#ff0000" stroke-width="6.0" stroke-dasharray="24 34" stroke-dashoffset="6.5"/>
<path d="M201.5,1045.80 L241.5,1045.80 L281.5,1045.80 L321.5,1045.76 L325.5,1045.75 L329.5,1045.74 L333.5,1045.73 L337.5,1045.71 L341.5,1045.68 L345.5,1045.66 L349.5,1045.62 L353.5,1045.58 L357.5,1045.53 L361.5,1045.47 L365.5,1045.40 L369.5,1045.32 L373.5,1045.21 L377.5,1045.09 L381.5,1044.95 L385.5,1044.78 L389.5,1044.57 L393.5,1044.34 L397.5,1044.06 L401.5,1043.74 L405.5,1043.37 L409.5,1042.94 L413.5,1042.45 L417.5,1041.88 L421.5,1041.23 L425.5,1040.49 L429.5,1039.66 L433.5,1038.71 L437.5,1037.64 L441.5,1036.45 L445.5,1035.11 L449.5,1033.63 L453.5,1031.98 L457.5,1030.16 L461.5,1028.16 L465.5,1025.97 L469.5,1023.57 L473.5,1020.98 L477.5,1018.16 L481.5,1015.13 L485.5,1011.88 L489.5,1008.40 L493.5,1004.70 L497.5,1000.79 L501.5,996.66 L505.5,992.33 L509.5,987.80 L513.5,983.10 L517.5,978.24 L521.5,973.23 L525.5,968.12 L529.5,962.91 L533.5,957.64 L537.5,952.34 L541.5,947.04 L545.5,941.79 L549.5,936.61 L553.5,931.55 L557.5,926.65 L561.5,921.94 L565.5,917.46 L569.5,913.25 L573.5,909.35 L577.5,905.80 L581.5,902.62 L585.5,899.85 L589.5,897.51 L593.5,895.62 L597.5,894.20 L601.5,893.27 L605.5,892.84 L609.5,892.89 L613.5,893.41 L617.5,894.37 L621.5,895.79 L625.5,897.64 L629.5,899.90 L633.5,902.56 L637.5,905.59 L641.5,908.97 L645.5,912.66 L649.5,916.65 L653.5,920.89 L657.5,925.36 L661.5,930.01 L665.5,934.82 L669.5,939.75 L673.5,944.76 L677.5,949.82 L681.5,954.91 L685.5,959.98 L689.5,965.01 L693.5,969.98 L697.5,974.85 L701.5,979.61 L705.5,984.23 L709.5,988.71 L713.5,993.01 L717.5,997.14 L721.5,1001.08 L725.5,1004.83 L729.5,1008.37 L733.5,1011.71 L737.5,1014.84 L741.5,1017.77 L745.5,1020.50 L749.5,1023.04 L753.5,1025.38 L757.5,1027.53 L761.5,1029.51 L765.5,1031.31 L769.5,1032.96 L773.5,1034.45 L777.5,1035.80 L781.5,1037.01 L785.5,1038.10 L789.5,1039.08 L793.5,1039.95 L797.5,1040.72 L801.5,1041.40 L805.5,1042.01 L809.5,1042.54 L813.5,1043.00 L817.5,1043.41 L821.5,1043.76 L825.5,1044.07 L829.5,1044.33 L833.5,1044.56 L837.5,1044.75 L841.5,1044.92 L845.5,1045.06 L849.5,1045.19 L853.5,1045.29 L857.5,1045.38 L861.5,1045.45 L865.5,1045.51 L869.5,1045.56 L873.5,1045.60 L877.5,1045.64 L881.5,1045.67 L885.5,1045.69 L889.5,1045.71 L893.5,1045.73 L897.5,1045.74 L901.5,1045.76 L941.5,1045.80 L981.5,1045.80 L1021.5,1045.80 L1061.5,1045.80 L1101.5,1045.80 L1141.5,1045.80 L1181.5,1045.80 L1221.5,1045.80 L1261.5,1045.80 L1301.5,1045.80 L1341.5,1045.80 L1381.5,1045.80 L1421.5,1045.80 L1461.0,1045.80" stroke="#008000" stroke-width="6.0" stroke-dasharray="29 19 4 20" stroke-dashoffset="1.2"/>
<path d="M201.5,1242.80 L241.5,1242.80 L281.5,1242.80 L321.5,1242.80 L361.5,1242.79 L401.5,1242.75 L405.5,1242.75 L409.5,1242.73 L413.5,1242.72 L417.5,1242.71 L421.5,1242.69 L425.5,1242.67 L429.5,1242.64 L433.5,1242.62 L437.5,1242.58 L441.5,1242.55 L445.5,1242.50 L449.5,1242.45 L453.5,1242.39 L457.5,1242.33 L461.5,1242.25 L465.5,1242.16 L469.5,1242.06 L473.5,1241.95 L477.5,1241.82 L481.5,1241.67 L485.5,1241.50 L489.5,1241.32 L493.5,1241.11 L497.5,1240.87 L501.5,1240.61 L505.5,1240.32 L509.5,1239.99 L513.5,1239.63 L517.5,1239.23 L521.5,1238.79 L525.5,1238.30 L529.5,1237.77 L533.5,1237.18 L537.5,1236.55 L541.5,1235.85 L545.5,1235.10 L549.5,1234.29 L553.5,1233.41 L557.5,1232.46 L561.5,1231.44 L565.5,1230.35 L569.5,1229.19 L573.5,1227.95 L577.5,1226.64 L581.5,1225.25 L585.5,1223.79 L589.5,1222.25 L593.5,1220.63 L597.5,1218.94 L601.5,1217.18 L605.5,1215.35 L609.5,1213.46 L613.5,1211.51 L617.5,1209.51 L621.5,1207.46 L625.5,1205.37 L629.5,1203.24 L633.5,1201.08 L637.5,1198.91 L641.5,1196.73 L645.5,1194.56 L649.5,1192.39 L653.5,1190.24 L657.5,1188.13 L661.5,1186.06 L665.5,1184.05 L669.5,1182.11 L673.5,1180.24 L677.5,1178.46 L681.5,1176.77 L685.5,1175.20 L689.5,1173.75 L693.5,1172.43 L697.5,1171.24 L701.5,1170.20 L705.5,1169.31 L709.5,1168.57 L713.5,1168.00 L717.5,1167.60 L721.5,1167.37 L725.5,1167.30 L729.5,1167.45 L733.5,1167.84 L737.5,1168.46 L741.5,1169.31 L745.5,1170.38 L749.5,1171.66 L753.5,1173.14 L757.5,1174.81 L761.5,1176.65 L765.5,1178.64 L769.5,1180.76 L773.5,1183.01 L777.5,1185.36 L781.5,1187.79 L785.5,1190.29 L789.5,1192.83 L793.5,1195.40 L797.5,1197.97 L801.5,1200.55 L805.5,1203.10 L809.5,1205.61 L813.5,1208.08 L817.5,1210.49 L821.5,1212.82 L825.5,1215.08 L829.5,1217.24 L833.5,1219.31 L837.5,1221.28 L841.5,1223.15 L845.5,1224.92 L849.5,1226.57 L853.5,1228.12 L857.5,1229.57 L861.5,1230.91 L865.5,1232.14 L869.5,1233.28 L873.5,1234.33 L877.5,1235.28 L881.5,1236.15 L885.5,1236.93 L889.5,1237.64 L893.5,1238.28 L897.5,1238.85 L901.5,1239.36 L905.5,1239.82 L909.5,1240.22 L913.5,1240.57 L917.5,1240.89 L921.5,1241.16 L925.5,1241.40 L929.5,1241.61 L933.5,1241.79 L937.5,1241.94 L941.5,1242.08 L945.5,1242.19 L949.5,1242.29 L953.5,1242.37 L957.5,1242.45 L961.5,1242.51 L965.5,1242.56 L969.5,1242.60 L973.5,1242.63 L977.5,1242.66 L981.5,1242.69 L985.5,1242.71 L989.5,1242.73 L993.5,1242.74 L997.5,1242.75 L1001.5,1242.76 L1005.5,1242.77 L1009.5,1242.78 L1013.5,1242.78 L1017.5,1242.78 L1021.5,1242.79 L1025.5,1242.79 L1029.5,1242.79 L1033.5,1242.79 L1037.5,1242.80 L1041.5,1242.80 L1045.5,1242.80 L1049.5,1242.80 L1053.5,1242.80 L1057.5,1242.80 L1061.5,1242.80 L1101.5,1242.80 L1141.5,1242.80 L1181.5,1242.80 L1221.5,1242.80 L1261.5,1242.80 L1301.5,1242.80 L1341.5,1242.80 L1381.5,1242.80 L1421.5,1242.80 L1461.0,1242.80" stroke="#0000ff" stroke-width="6.0" stroke-dasharray="1 10.7" opacity="0.75"/>
<path d="M201.5,1242.79 L241.5,1242.72 L245.5,1242.70 L249.5,1242.68 L253.5,1242.64 L257.5,1242.60 L261.5,1242.56 L265.5,1242.50 L269.5,1242.42 L273.5,1242.34 L277.5,1242.23 L281.5,1242.11 L285.5,1241.96 L289.5,1241.78 L293.5,1241.57 L297.5,1241.33 L301.5,1241.05 L305.5,1240.71 L309.5,1240.33 L313.5,1239.89 L317.5,1239.39 L321.5,1238.82 L325.5,1238.17 L329.5,1237.44 L333.5,1236.63 L337.5,1235.72 L341.5,1234.72 L345.5,1233.61 L349.5,1232.40 L353.5,1231.08 L357.5,1229.65 L361.5,1228.11 L365.5,1226.47 L369.5,1224.72 L373.5,1222.87 L377.5,1220.94 L381.5,1218.92 L385.5,1216.83 L389.5,1214.68 L393.5,1212.49 L397.5,1210.27 L401.5,1208.05 L405.5,1205.84 L409.5,1203.66 L413.5,1201.54 L417.5,1199.50 L421.5,1197.56 L425.5,1195.74 L429.5,1194.06 L433.5,1192.55 L437.5,1191.22 L441.5,1190.09 L445.5,1189.17 L449.5,1188.49 L453.5,1188.03 L457.5,1187.82 L461.5,1187.85 L465.5,1188.12 L469.5,1188.64 L473.5,1189.38 L477.5,1190.35 L481.5,1191.53 L485.5,1192.91 L489.5,1194.47 L493.5,1196.18 L497.5,1198.03 L501.5,1200.00 L505.5,1202.07 L509.5,1204.20 L513.5,1206.39 L517.5,1208.61 L521.5,1210.83 L525.5,1213.04 L529.5,1215.22 L533.5,1217.36 L537.5,1219.43 L541.5,1221.43 L545.5,1223.34 L549.5,1225.17 L553.5,1226.89 L557.5,1228.51 L561.5,1230.02 L565.5,1231.42 L569.5,1232.71 L573.5,1233.90 L577.5,1234.98 L581.5,1235.96 L585.5,1236.84 L589.5,1237.63 L593.5,1238.34 L597.5,1238.97 L601.5,1239.52 L605.5,1240.01 L609.5,1240.43 L613.5,1240.80 L617.5,1241.12 L621.5,1241.40 L625.5,1241.63 L629.5,1241.83 L633.5,1242.00 L637.5,1242.14 L641.5,1242.26 L645.5,1242.36 L649.5,1242.44 L653.5,1242.51 L657.5,1242.57 L661.5,1242.62 L665.5,1242.65 L669.5,1242.68 L673.5,1242.71 L677.5,1242.73 L681.5,1242.74 L685.5,1242.76 L689.5,1242.77 L693.5,1242.77 L697.5,1242.78 L701.5,1242.78 L741.5,1242.80 L781.5,1242.80 L821.5,1242.80 L861.5,1242.80 L901.5,1242.80 L941.5,1242.80 L981.5,1242.80 L1021.5,1242.80 L1061.5,1242.80 L1101.5,1242.80 L1141.5,1242.80 L1181.5,1242.80 L1221.5,1242.80 L1261.5,1242.80 L1301.5,1242.80 L1341.5,1242.80 L1381.5,1242.80 L1421.5,1242.80 L1461.0,1242.80" stroke="#ff0000" stroke-width="6.0" stroke-dasharray="24 34" stroke-dashoffset="4.2"/>
<path d="M201.5,1242.80 L241.5,1242.79 L281.5,1242.69 L285.5,1242.67 L289.5,1242.65 L293.5,1242.62 L297.5,1242.58 L301.5,1242.54 L305.5,1242.49 L309.5,1242.43 L313.5,1242.36 L317.5,1242.28 L321.5,1242.19 L325.5,1242.08 L329.5,1241.95 L333.5,1241.81 L337.5,1241.64 L341.5,1241.45 L345.5,1241.23 L349.5,1240.99 L353.5,1240.70 L357.5,1240.38 L361.5,1240.01 L365.5,1239.60 L369.5,1239.14 L373.5,1238.61 L377.5,1238.03 L381.5,1237.38 L385.5,1236.65 L389.5,1235.84 L393.5,1234.94 L397.5,1233.95 L401.5,1232.86 L405.5,1231.67 L409.5,1230.36 L413.5,1228.93 L417.5,1227.37 L421.5,1225.68 L425.5,1223.85 L429.5,1221.88 L433.5,1219.76 L437.5,1217.48 L441.5,1215.05 L445.5,1212.45 L449.5,1209.70 L453.5,1206.78 L457.5,1203.70 L461.5,1200.47 L465.5,1197.07 L469.5,1193.53 L473.5,1189.83 L477.5,1186.01 L481.5,1182.05 L485.5,1177.97 L489.5,1173.79 L493.5,1169.52 L497.5,1165.17 L501.5,1160.77 L505.5,1156.33 L509.5,1151.87 L513.5,1147.41 L517.5,1142.98 L521.5,1138.60 L525.5,1134.28 L529.5,1130.07 L533.5,1125.98 L537.5,1122.03 L541.5,1118.25 L545.5,1114.67 L549.5,1111.31 L553.5,1108.19 L557.5,1105.32 L561.5,1102.74 L565.5,1100.46 L569.5,1098.50 L573.5,1096.86 L577.5,1095.56 L581.5,1094.62 L585.5,1094.03 L589.5,1093.80 L593.5,1093.96 L597.5,1094.54 L601.5,1095.54 L605.5,1096.95 L609.5,1098.75 L613.5,1100.94 L617.5,1103.49 L621.5,1106.38 L625.5,1109.59 L629.5,1113.10 L633.5,1116.87 L637.5,1120.88 L641.5,1125.09 L645.5,1129.49 L649.5,1134.03 L653.5,1138.68 L657.5,1143.42 L661.5,1148.21 L665.5,1153.03 L669.5,1157.84 L673.5,1162.63 L677.5,1167.36 L681.5,1172.01 L685.5,1176.56 L689.5,1181.00 L693.5,1185.30 L697.5,1189.46 L701.5,1193.45 L705.5,1197.28 L709.5,1200.93 L713.5,1204.39 L717.5,1207.67 L721.5,1210.76 L725.5,1213.67 L729.5,1216.38 L733.5,1218.91 L737.5,1221.26 L741.5,1223.43 L745.5,1225.43 L749.5,1227.27 L753.5,1228.96 L757.5,1230.49 L761.5,1231.89 L765.5,1233.16 L769.5,1234.30 L773.5,1235.33 L777.5,1236.25 L781.5,1237.08 L785.5,1237.81 L789.5,1238.47 L793.5,1239.05 L797.5,1239.56 L801.5,1240.01 L805.5,1240.40 L809.5,1240.74 L813.5,1241.04 L817.5,1241.30 L821.5,1241.53 L825.5,1241.72 L829.5,1241.89 L833.5,1242.03 L837.5,1242.16 L841.5,1242.26 L845.5,1242.35 L849.5,1242.43 L853.5,1242.49 L857.5,1242.54 L861.5,1242.59 L865.5,1242.62 L869.5,1242.66 L873.5,1242.68 L877.5,1242.70 L881.5,1242.72 L885.5,1242.74 L889.5,1242.75 L893.5,1242.76 L897.5,1242.77 L901.5,1242.77 L905.5,1242.78 L909.5,1242.78 L913.5,1242.79 L917.5,1242.79 L957.5,1242.80 L997.5,1242.80 L1037.5,1242.80 L1077.5,1242.80 L1117.5,1242.80 L1157.5,1242.80 L1197.5,1242.80 L1237.5,1242.80 L1277.5,1242.80 L1317.5,1242.80 L1357.5,1242.80 L1397.5,1242.80 L1437.5,1242.80 L1461.0,1242.80" stroke="#008000" stroke-width="6.0" stroke-dasharray="29 19 4 20" stroke-dashoffset="3.7"/>
<path d="M201.5,1423.60 L241.5,1423.60 L281.5,1423.60 L321.5,1423.60 L361.5,1423.60 L401.5,1423.60 L441.5,1423.60 L481.5,1423.59 L485.5,1423.59 L489.5,1423.59 L493.5,1423.58 L497.5,1423.58 L501.5,1423.57 L505.5,1423.57 L509.5,1423.56 L513.5,1423.55 L517.5,1423.54 L521.5,1423.52 L525.5,1423.50 L529.5,1423.48 L533.5,1423.45 L537.5,1423.42 L541.5,1423.38 L545.5,1423.33 L549.5,1423.27 L553.5,1423.21 L557.5,1423.13 L561.5,1423.04 L565.5,1422.93 L569.5,1422.81 L573.5,1422.66 L577.5,1422.49 L581.5,1422.30 L585.5,1422.08 L589.5,1421.84 L593.5,1421.55 L597.5,1421.24 L601.5,1420.88 L605.5,1420.48 L609.5,1420.04 L613.5,1419.54 L617.5,1419.00 L621.5,1418.41 L625.5,1417.76 L629.5,1417.05 L633.5,1416.29 L637.5,1415.47 L641.5,1414.59 L645.5,1413.65 L649.5,1412.66 L653.5,1411.61 L657.5,1410.51 L661.5,1409.37 L665.5,1408.18 L669.5,1406.96 L673.5,1405.71 L677.5,1404.44 L681.5,1403.16 L685.5,1401.87 L689.5,1400.59 L693.5,1399.32 L697.5,1398.09 L701.5,1396.89 L705.5,1395.74 L709.5,1394.65 L713.5,1393.63 L717.5,1392.70 L721.5,1391.85 L725.5,1391.11 L729.5,1390.47 L733.5,1389.95 L737.5,1389.55 L741.5,1389.27 L745.5,1389.13 L749.5,1389.11 L753.5,1389.21 L757.5,1389.42 L761.5,1389.74 L765.5,1390.16 L769.5,1390.69 L773.5,1391.31 L777.5,1392.03 L781.5,1392.83 L785.5,1393.71 L789.5,1394.66 L793.5,1395.67 L797.5,1396.73 L801.5,1397.84 L805.5,1398.98 L809.5,1400.15 L813.5,1401.33 L817.5,1402.53 L821.5,1403.72 L825.5,1404.91 L829.5,1406.08 L833.5,1407.24 L837.5,1408.37 L841.5,1409.46 L845.5,1410.52 L849.5,1411.54 L853.5,1412.52 L857.5,1413.45 L861.5,1414.33 L865.5,1415.17 L869.5,1415.95 L873.5,1416.68 L877.5,1417.37 L881.5,1418.00 L885.5,1418.59 L889.5,1419.13 L893.5,1419.62 L897.5,1420.07 L901.5,1420.48 L905.5,1420.86 L909.5,1421.19 L913.5,1421.49 L917.5,1421.76 L921.5,1422.00 L925.5,1422.21 L929.5,1422.40 L933.5,1422.57 L937.5,1422.72 L941.5,1422.84 L945.5,1422.96 L949.5,1423.05 L953.5,1423.14 L957.5,1423.21 L961.5,1423.27 L965.5,1423.32 L969.5,1423.37 L973.5,1423.41 L977.5,1423.44 L981.5,1423.47 L985.5,1423.49 L989.5,1423.51 L993.5,1423.53 L997.5,1423.54 L1001.5,1423.55 L1005.5,1423.56 L1009.5,1423.57 L1013.5,1423.57 L1017.5,1423.58 L1021.5,1423.58 L1025.5,1423.59 L1029.5,1423.59 L1069.5,1423.60 L1109.5,1423.60 L1149.5,1423.60 L1189.5,1423.60 L1229.5,1423.60 L1269.5,1423.60 L1309.5,1423.60 L1349.5,1423.60 L1389.5,1423.60 L1429.5,1423.60 L1461.0,1423.60" stroke="#0000ff" stroke-width="6.0" stroke-dasharray="1 10.7" opacity="0.75"/>
<path d="M201.5,1423.60 L241.5,1423.56 L245.5,1423.55 L249.5,1423.54 L253.5,1423.52 L257.5,1423.51 L261.5,1423.49 L265.5,1423.46 L269.5,1423.43 L273.5,1423.40 L277.5,1423.35 L281.5,1423.30 L285.5,1423.25 L289.5,1423.18 L293.5,1423.09 L297.5,1423.00 L301.5,1422.89 L305.5,1422.76 L309.5,1422.62 L313.5,1422.45 L317.5,1422.25 L321.5,1422.03 L325.5,1421.78 L329.5,1421.50 L333.5,1421.18 L337.5,1420.82 L341.5,1420.42 L345.5,1419.97 L349.5,1419.48 L353.5,1418.93 L357.5,1418.33 L361.5,1417.66 L365.5,1416.94 L369.5,1416.16 L373.5,1415.31 L377.5,1414.40 L381.5,1413.42 L385.5,1412.37 L389.5,1411.26 L393.5,1410.08 L397.5,1408.84 L401.5,1407.54 L405.5,1406.18 L409.5,1404.77 L413.5,1403.32 L417.5,1401.83 L421.5,1400.30 L425.5,1398.76 L429.5,1397.20 L433.5,1395.63 L437.5,1394.07 L441.5,1392.53 L445.5,1391.02 L449.5,1389.56 L453.5,1388.14 L457.5,1386.79 L461.5,1385.51 L465.5,1384.33 L469.5,1383.24 L473.5,1382.26 L477.5,1381.40 L481.5,1380.67 L485.5,1380.07 L489.5,1379.61 L493.5,1379.30 L497.5,1379.13 L501.5,1379.11 L505.5,1379.24 L509.5,1379.52 L513.5,1379.94 L517.5,1380.51 L521.5,1381.21 L525.5,1382.04 L529.5,1382.99 L533.5,1384.05 L537.5,1385.21 L541.5,1386.46 L545.5,1387.80 L549.5,1389.20 L553.5,1390.65 L557.5,1392.15 L561.5,1393.69 L565.5,1395.24 L569.5,1396.80 L573.5,1398.37 L577.5,1399.92 L581.5,1401.45 L585.5,1402.95 L589.5,1404.41 L593.5,1405.83 L597.5,1407.20 L601.5,1408.52 L605.5,1409.77 L609.5,1410.97 L613.5,1412.10 L617.5,1413.16 L621.5,1414.16 L625.5,1415.09 L629.5,1415.95 L633.5,1416.75 L637.5,1417.49 L641.5,1418.17 L645.5,1418.78 L649.5,1419.34 L653.5,1419.85 L657.5,1420.31 L661.5,1420.72 L665.5,1421.09 L669.5,1421.42 L673.5,1421.71 L677.5,1421.97 L681.5,1422.20 L685.5,1422.40 L689.5,1422.58 L693.5,1422.73 L697.5,1422.86 L701.5,1422.97 L705.5,1423.07 L709.5,1423.16 L713.5,1423.23 L717.5,1423.29 L721.5,1423.34 L725.5,1423.39 L729.5,1423.42 L733.5,1423.45 L737.5,1423.48 L741.5,1423.50 L745.5,1423.52 L749.5,1423.54 L753.5,1423.55 L757.5,1423.56 L761.5,1423.57 L765.5,1423.57 L769.5,1423.58 L773.5,1423.58 L777.5,1423.59 L817.5,1423.60 L857.5,1423.60 L897.5,1423.60 L937.5,1423.60 L977.5,1423.60 L1017.5,1423.60 L1057.5,1423.60 L1097.5,1423.60 L1137.5,1423.60 L1177.5,1423.60 L1217.5,1423.60 L1257.5,1423.60 L1297.5,1423.60 L1337.5,1423.60 L1377.5,1423.60 L1417.5,1423.60 L1457.5,1423.60 L1461.0,1423.60" stroke="#ff0000" stroke-width="6.0" stroke-dasharray="24 34" stroke-dashoffset="4.0"/>
<path d="M201.5,1423.60 L241.5,1423.60 L281.5,1423.60 L321.5,1423.58 L325.5,1423.57 L329.5,1423.56 L333.5,1423.55 L337.5,1423.53 L341.5,1423.52 L345.5,1423.50 L349.5,1423.47 L353.5,1423.43 L357.5,1423.39 L361.5,1423.34 L365.5,1423.28 L369.5,1423.21 L373.5,1423.12 L377.5,1423.01 L381.5,1422.88 L385.5,1422.72 L389.5,1422.54 L393.5,1422.32 L397.5,1422.06 L401.5,1421.76 L405.5,1421.41 L409.5,1421.00 L413.5,1420.53 L417.5,1419.98 L421.5,1419.35 L425.5,1418.64 L429.5,1417.82 L433.5,1416.90 L437.5,1415.87 L441.5,1414.70 L445.5,1413.40 L449.5,1411.96 L453.5,1410.37 L457.5,1408.61 L461.5,1406.69 L465.5,1404.60 L469.5,1402.33 L473.5,1399.88 L477.5,1397.26 L481.5,1394.46 L485.5,1391.48 L489.5,1388.34 L493.5,1385.05 L497.5,1381.61 L501.5,1378.04 L505.5,1374.36 L509.5,1370.59 L513.5,1366.76 L517.5,1362.89 L521.5,1359.00 L525.5,1355.14 L529.5,1351.33 L533.5,1347.60 L537.5,1343.99 L541.5,1340.53 L545.5,1337.27 L549.5,1334.22 L553.5,1331.43 L557.5,1328.92 L561.5,1326.72 L565.5,1324.86 L569.5,1323.36 L573.5,1322.22 L577.5,1321.48 L581.5,1321.13 L585.5,1321.16 L589.5,1321.51 L593.5,1322.15 L597.5,1323.10 L601.5,1324.34 L605.5,1325.85 L609.5,1327.64 L613.5,1329.67 L617.5,1331.93 L621.5,1334.41 L625.5,1337.08 L629.5,1339.92 L633.5,1342.91 L637.5,1346.03 L641.5,1349.25 L645.5,1352.55 L649.5,1355.91 L653.5,1359.30 L657.5,1362.71 L661.5,1366.11 L665.5,1369.48 L669.5,1372.80 L673.5,1376.07 L677.5,1379.26 L681.5,1382.35 L685.5,1385.35 L689.5,1388.24 L693.5,1391.00 L697.5,1393.64 L701.5,1396.15 L705.5,1398.52 L709.5,1400.76 L713.5,1402.86 L717.5,1404.83 L721.5,1406.65 L725.5,1408.35 L729.5,1409.92 L733.5,1411.36 L737.5,1412.68 L741.5,1413.89 L745.5,1415.00 L749.5,1416.00 L753.5,1416.90 L757.5,1417.71 L761.5,1418.44 L765.5,1419.10 L769.5,1419.68 L773.5,1420.20 L777.5,1420.65 L781.5,1421.06 L785.5,1421.41 L789.5,1421.72 L793.5,1422.00 L797.5,1422.23 L801.5,1422.44 L805.5,1422.62 L809.5,1422.77 L813.5,1422.90 L817.5,1423.01 L821.5,1423.11 L825.5,1423.19 L829.5,1423.26 L833.5,1423.32 L837.5,1423.36 L841.5,1423.41 L845.5,1423.44 L849.5,1423.47 L853.5,1423.49 L857.5,1423.51 L861.5,1423.53 L865.5,1423.54 L869.5,1423.55 L873.5,1423.56 L877.5,1423.57 L917.5,1423.60 L957.5,1423.60 L997.5,1423.60 L1037.5,1423.60 L1077.5,1423.60 L1117.5,1423.60 L1157.5,1423.60 L1197.5,1423.60 L1237.5,1423.60 L1277.5,1423.60 L1317.5,1423.60 L1357.5,1423.60 L1397.5,1423.60 L1437.5,1423.60 L1461.0,1423.60" stroke="#008000" stroke-width="6.0" stroke-dasharray="29 19 4 20" stroke-dashoffset="1.6"/>
<path d="M201.5,1622.80 L241.5,1622.80 L281.5,1622.80 L321.5,1622.80 L361.5,1622.80 L401.5,1622.79 L441.5,1622.76 L445.5,1622.75 L449.5,1622.74 L453.5,1622.73 L457.5,1622.72 L461.5,1622.70 L465.5,1622.68 L469.5,1622.66 L473.5,1622.63 L477.5,1622.60 L481.5,1622.57 L485.5,1622.53 L489.5,1622.48 L493.5,1622.43 L497.5,1622.37 L501.5,1622.29 L505.5,1622.21 L509.5,1622.12 L513.5,1622.02 L517.5,1621.90 L521.5,1621.77 L525.5,1621.62 L529.5,1621.45 L533.5,1621.26 L537.5,1621.05 L541.5,1620.82 L545.5,1620.56 L549.5,1620.28 L553.5,1619.96 L557.5,1619.61 L561.5,1619.23 L565.5,1618.82 L569.5,1618.36 L573.5,1617.87 L577.5,1617.34 L581.5,1616.76 L585.5,1616.14 L589.5,1615.47 L593.5,1614.76 L597.5,1614.00 L601.5,1613.19 L605.5,1612.34 L609.5,1611.43 L613.5,1610.48 L617.5,1609.49 L621.5,1608.44 L625.5,1607.36 L629.5,1606.24 L633.5,1605.07 L637.5,1603.88 L641.5,1602.65 L645.5,1601.40 L649.5,1600.12 L653.5,1598.83 L657.5,1597.53 L661.5,1596.23 L665.5,1594.93 L669.5,1593.64 L673.5,1592.36 L677.5,1591.11 L681.5,1589.89 L685.5,1588.71 L689.5,1587.57 L693.5,1586.48 L697.5,1585.46 L701.5,1584.50 L705.5,1583.62 L709.5,1582.81 L713.5,1582.10 L717.5,1581.47 L721.5,1580.93 L725.5,1580.50 L729.5,1580.17 L733.5,1579.94 L737.5,1579.82 L741.5,1579.81 L745.5,1579.90 L749.5,1580.10 L753.5,1580.41 L757.5,1580.82 L761.5,1581.33 L765.5,1581.93 L769.5,1582.63 L773.5,1583.41 L777.5,1584.27 L781.5,1585.21 L785.5,1586.22 L789.5,1587.29 L793.5,1588.42 L797.5,1589.59 L801.5,1590.80 L805.5,1592.05 L809.5,1593.32 L813.5,1594.60 L817.5,1595.90 L821.5,1597.21 L825.5,1598.51 L829.5,1599.80 L833.5,1601.08 L837.5,1602.34 L841.5,1603.57 L845.5,1604.78 L849.5,1605.95 L853.5,1607.08 L857.5,1608.18 L861.5,1609.23 L865.5,1610.24 L869.5,1611.20 L873.5,1612.12 L877.5,1612.98 L881.5,1613.80 L885.5,1614.57 L889.5,1615.30 L893.5,1615.98 L897.5,1616.61 L901.5,1617.20 L905.5,1617.74 L909.5,1618.24 L913.5,1618.71 L917.5,1619.13 L921.5,1619.52 L925.5,1619.88 L929.5,1620.20 L933.5,1620.49 L937.5,1620.76 L941.5,1621.00 L945.5,1621.21 L949.5,1621.41 L953.5,1621.58 L957.5,1621.73 L961.5,1621.87 L965.5,1621.99 L969.5,1622.10 L973.5,1622.19 L977.5,1622.28 L981.5,1622.35 L985.5,1622.41 L989.5,1622.47 L993.5,1622.52 L997.5,1622.56 L1001.5,1622.59 L1005.5,1622.63 L1009.5,1622.65 L1013.5,1622.68 L1017.5,1622.70 L1021.5,1622.71 L1025.5,1622.73 L1029.5,1622.74 L1033.5,1622.75 L1037.5,1622.76 L1041.5,1622.76 L1045.5,1622.77 L1049.5,1622.78 L1053.5,1622.78 L1057.5,1622.78 L1061.5,1622.79 L1101.5,1622.80 L1141.5,1622.80 L1181.5,1622.80 L1221.5,1622.80 L1261.5,1622.80 L1301.5,1622.80 L1341.5,1622.80 L1381.5,1622.80 L1421.5,1622.80 L1461.0,1622.80" stroke="#0000ff" stroke-width="6.0" stroke-dasharray="1 10.7" opacity="0.75"/>
<path d="M201.5,1622.79 L205.5,1622.79 L209.5,1622.79 L213.5,1622.79 L217.5,1622.78 L221.5,1622.78 L225.5,1622.77 L229.5,1622.76 L233.5,1622.75 L237.5,1622.74 L241.5,1622.72 L245.5,1622.70 L249.5,1622.68 L253.5,1622.65 L257.5,1622.61 L261.5,1622.57 L265.5,1622.51 L269.5,1622.44 L273.5,1622.36 L277.5,1622.26 L281.5,1622.14 L285.5,1622.00 L289.5,1621.83 L293.5,1621.64 L297.5,1621.40 L301.5,1621.13 L305.5,1620.82 L309.5,1620.45 L313.5,1620.03 L317.5,1619.55 L321.5,1619.00 L325.5,1618.37 L329.5,1617.66 L333.5,1616.86 L337.5,1615.97 L341.5,1614.98 L345.5,1613.88 L349.5,1612.66 L353.5,1611.33 L357.5,1609.88 L361.5,1608.31 L365.5,1606.61 L369.5,1604.79 L373.5,1602.85 L377.5,1600.78 L381.5,1598.61 L385.5,1596.33 L389.5,1593.96 L393.5,1591.50 L397.5,1588.98 L401.5,1586.41 L405.5,1583.80 L409.5,1581.18 L413.5,1578.57 L417.5,1575.99 L421.5,1573.46 L425.5,1571.01 L429.5,1568.67 L433.5,1566.46 L437.5,1564.40 L441.5,1562.52 L445.5,1560.83 L449.5,1559.36 L453.5,1558.13 L457.5,1557.15 L461.5,1556.43 L465.5,1555.98 L469.5,1555.80 L473.5,1555.89 L477.5,1556.21 L481.5,1556.75 L485.5,1557.52 L489.5,1558.50 L493.5,1559.68 L497.5,1561.06 L501.5,1562.62 L505.5,1564.34 L509.5,1566.20 L513.5,1568.20 L517.5,1570.30 L521.5,1572.51 L525.5,1574.78 L529.5,1577.11 L533.5,1579.48 L537.5,1581.86 L541.5,1584.25 L545.5,1586.63 L549.5,1588.97 L553.5,1591.28 L557.5,1593.52 L561.5,1595.70 L565.5,1597.81 L569.5,1599.83 L573.5,1601.76 L577.5,1603.60 L581.5,1605.33 L585.5,1606.97 L589.5,1608.50 L593.5,1609.92 L597.5,1611.25 L601.5,1612.47 L605.5,1613.60 L609.5,1614.63 L613.5,1615.57 L617.5,1616.43 L621.5,1617.20 L625.5,1617.90 L629.5,1618.52 L633.5,1619.08 L637.5,1619.58 L641.5,1620.01 L645.5,1620.40 L649.5,1620.74 L653.5,1621.04 L657.5,1621.30 L661.5,1621.53 L665.5,1621.73 L669.5,1621.89 L673.5,1622.04 L677.5,1622.16 L681.5,1622.27 L685.5,1622.36 L689.5,1622.43 L693.5,1622.50 L697.5,1622.55 L701.5,1622.60 L705.5,1622.63 L709.5,1622.66 L713.5,1622.69 L717.5,1622.71 L721.5,1622.73 L725.5,1622.74 L729.5,1622.75 L733.5,1622.76 L737.5,1622.77 L741.5,1622.78 L745.5,1622.78 L785.5,1622.80 L825.5,1622.80 L865.5,1622.80 L905.5,1622.80 L945.5,1622.80 L985.5,1622.80 L1025.5,1622.80 L1065.5,1622.80 L1105.5,1622.80 L1145.5,1622.80 L1185.5,1622.80 L1225.5,1622.80 L1265.5,1622.80 L1305.5,1622.80 L1345.5,1622.80 L1385.5,1622.80 L1425.5,1622.80 L1461.0,1622.80" stroke="#ff0000" stroke-width="6.0" stroke-dasharray="24 34" stroke-dashoffset="3.5"/>
<path d="M201.5,1622.73 L205.5,1622.71 L209.5,1622.70 L213.5,1622.68 L217.5,1622.66 L221.5,1622.64 L225.5,1622.61 L229.5,1622.58 L233.5,1622.54 L237.5,1622.50 L241.5,1622.45 L245.5,1622.40 L249.5,1622.33 L253.5,1622.26 L257.5,1622.18 L261.5,1622.09 L265.5,1621.99 L269.5,1621.87 L273.5,1621.74 L277.5,1621.59 L281.5,1621.42 L285.5,1621.24 L289.5,1621.03 L293.5,1620.79 L297.5,1620.53 L301.5,1620.24 L305.5,1619.92 L309.5,1619.57 L313.5,1619.17 L317.5,1618.74 L321.5,1618.26 L325.5,1617.74 L329.5,1617.16 L333.5,1616.54 L337.5,1615.85 L341.5,1615.10 L345.5,1614.29 L349.5,1613.41 L353.5,1612.46 L357.5,1611.43 L361.5,1610.32 L365.5,1609.13 L369.5,1607.85 L373.5,1606.48 L377.5,1605.02 L381.5,1603.46 L385.5,1601.80 L389.5,1600.05 L393.5,1598.19 L397.5,1596.23 L401.5,1594.16 L405.5,1591.99 L409.5,1589.71 L413.5,1587.33 L417.5,1584.84 L421.5,1582.26 L425.5,1579.58 L429.5,1576.80 L433.5,1573.94 L437.5,1570.99 L441.5,1567.96 L445.5,1564.86 L449.5,1561.69 L453.5,1558.47 L457.5,1555.20 L461.5,1551.89 L465.5,1548.56 L469.5,1545.21 L473.5,1541.85 L477.5,1538.51 L481.5,1535.18 L485.5,1531.89 L489.5,1528.64 L493.5,1525.46 L497.5,1522.34 L501.5,1519.32 L505.5,1516.40 L509.5,1513.59 L513.5,1510.92 L517.5,1508.38 L521.5,1506.00 L525.5,1503.79 L529.5,1501.75 L533.5,1499.90 L537.5,1498.25 L541.5,1496.80 L545.5,1495.57 L549.5,1494.56 L553.5,1493.77 L557.5,1493.21 L561.5,1492.89 L565.5,1492.80 L569.5,1492.96 L573.5,1493.38 L577.5,1494.05 L581.5,1494.97 L585.5,1496.13 L589.5,1497.53 L593.5,1499.16 L597.5,1501.01 L601.5,1503.06 L605.5,1505.32 L609.5,1507.76 L613.5,1510.37 L617.5,1513.14 L621.5,1516.05 L625.5,1519.09 L629.5,1522.24 L633.5,1525.49 L637.5,1528.82 L641.5,1532.22 L645.5,1535.66 L649.5,1539.14 L653.5,1542.64 L657.5,1546.14 L661.5,1549.64 L665.5,1553.11 L669.5,1556.55 L673.5,1559.94 L677.5,1563.28 L681.5,1566.55 L685.5,1569.75 L689.5,1572.86 L693.5,1575.89 L697.5,1578.82 L701.5,1581.64 L705.5,1584.36 L709.5,1586.98 L713.5,1589.48 L717.5,1591.86 L721.5,1594.14 L725.5,1596.29 L729.5,1598.34 L733.5,1600.27 L737.5,1602.09 L741.5,1603.80 L745.5,1605.40 L749.5,1606.90 L753.5,1608.30 L757.5,1609.60 L761.5,1610.81 L765.5,1611.93 L769.5,1612.96 L773.5,1613.92 L777.5,1614.79 L781.5,1615.60 L785.5,1616.34 L789.5,1617.01 L793.5,1617.62 L797.5,1618.18 L801.5,1618.68 L805.5,1619.14 L809.5,1619.55 L813.5,1619.93 L817.5,1620.26 L821.5,1620.56 L825.5,1620.83 L829.5,1621.07 L833.5,1621.28 L837.5,1621.47 L841.5,1621.64 L845.5,1621.79 L849.5,1621.92 L853.5,1622.04 L857.5,1622.14 L861.5,1622.23 L865.5,1622.31 L869.5,1622.38 L873.5,1622.43 L877.5,1622.49 L881.5,1622.53 L885.5,1622.57 L889.5,1622.60 L893.5,1622.63 L897.5,1622.66 L901.5,1622.68 L905.5,1622.70 L909.5,1622.71 L913.5,1622.73 L917.5,1622.74 L921.5,1622.75 L925.5,1622.76 L929.5,1622.76 L933.5,1622.77 L937.5,1622.78 L941.5,1622.78 L981.5,1622.80 L1021.5,1622.80 L1061.5,1622.80 L1101.5,1622.80 L1141.5,1622.80 L1181.5,1622.80 L1221.5,1622.80 L1261.5,1622.80 L1301.5,1622.80 L1341.5,1622.80 L1381.5,1622.80 L1421.5,1622.80 L1461.0,1622.80" stroke="#008000" stroke-width="6.0" stroke-dasharray="29 19 4 20" stroke-dashoffset="1.1"/>
</g>
<g fill="none" stroke="#000" stroke-width="6.0" stroke-linejoin="round" stroke-linecap="butt">
<path d="M204.0,230.4 C210.0,230.3 227.3,230.1 240.0,229.6 C252.7,229.1 266.7,228.7 280.0,227.6 C293.3,226.5 310.0,224.5 320.0,223.2 C330.0,221.9 334.1,221.3 340.0,219.7 C345.9,218.1 349.9,215.8 355.3,213.6 C360.7,211.4 367.5,209.2 372.1,206.4 C376.7,203.6 379.1,199.8 382.7,196.8 C386.2,193.8 389.3,191.7 393.4,188.4 C397.5,185.1 402.4,181.2 407.2,176.9 C412.0,172.6 417.8,167.0 422.4,162.4 C427.0,157.8 430.1,154.3 434.7,149.5 C439.3,144.7 444.3,139.1 449.9,133.4 C455.5,127.7 462.1,119.9 468.2,115.1 C474.3,110.3 480.5,107.1 486.6,104.4 C492.7,101.7 498.8,100.1 504.9,99.1 C511.0,98.1 519.1,98.5 523.2,98.6 C527.3,98.7 526.0,97.9 529.3,99.5 C532.6,101.1 538.5,105.0 543.1,108.2 C547.7,111.4 552.5,115.5 556.8,118.9 C561.1,122.4 565.1,125.6 569.0,128.9 C572.9,132.2 574.7,134.6 580.0,138.8 C585.3,143.0 594.7,150.1 600.8,154.3 C606.9,158.6 610.8,161.2 616.8,164.3 C622.8,167.4 630.2,170.8 636.9,173.1 C643.6,175.4 650.2,176.3 656.9,178.3 C663.6,180.3 669.6,182.3 677.0,185.1 C684.4,187.9 693.7,192.2 701.0,195.1 C708.3,198.0 713.7,200.2 721.0,202.4 C728.3,204.6 737.0,207.1 745.0,208.4 C753.0,209.7 763.3,210.3 769.1,210.4 C774.9,210.5 775.8,210.2 780.0,209.2 C784.2,208.1 789.1,205.8 794.2,204.1 C799.3,202.4 805.4,201.9 810.5,199.0 C815.6,196.1 820.4,191.9 824.8,186.8 C829.2,181.7 832.9,176.0 837.0,168.5 C841.1,161.0 845.1,151.8 849.2,142.0 C853.3,132.2 857.3,119.9 861.4,109.4 C865.5,98.9 869.2,87.6 873.6,78.9 C878.0,70.2 882.8,62.6 887.9,57.5 C893.0,52.4 898.4,49.0 904.2,48.3 C910.0,47.6 916.0,50.3 922.5,53.4 C929.0,56.5 936.1,61.6 942.9,66.7 C949.7,71.8 956.4,78.4 963.2,84.0 C970.0,89.6 976.8,95.0 983.6,100.2 C990.4,105.5 995.4,109.9 1003.9,115.5 C1012.4,121.1 1024.3,127.4 1034.5,133.8 C1044.7,140.2 1054.1,147.1 1065.0,154.2 C1075.9,161.3 1090.3,171.3 1100.0,176.6 C1109.7,181.8 1113.9,183.0 1123.2,185.7 C1132.5,188.4 1146.9,190.8 1155.7,193.0 C1164.5,195.2 1169.3,196.7 1176.1,199.2 C1182.9,201.7 1189.6,205.0 1196.4,208.1 C1203.2,211.2 1210.0,214.8 1216.8,217.5 C1223.6,220.2 1230.4,222.5 1237.2,224.4 C1244.0,226.3 1250.7,227.8 1257.5,228.9 C1264.3,230.0 1267.7,230.5 1277.9,230.9 C1288.1,231.3 1305.0,231.3 1318.6,231.3 C1332.2,231.3 1345.7,231.1 1359.3,230.9 C1372.9,230.7 1383.0,230.3 1400.0,230.1 C1417.0,229.9 1450.8,229.8 1461.0,229.7"/>
<path d="M204.0,434.6 C216.7,434.5 260.8,434.3 280.2,433.8 C299.6,433.3 311.9,432.1 320.2,431.6 C328.5,431.1 325.6,431.8 330.0,431.0 C334.4,430.2 340.9,428.7 346.3,427.0 C351.7,425.3 357.2,423.4 362.6,420.9 C368.0,418.3 373.5,415.3 378.9,411.7 C384.3,408.1 389.7,403.6 395.1,399.5 C400.5,395.4 406.0,391.0 411.4,387.3 C416.8,383.6 422.3,380.2 427.7,377.1 C433.1,374.0 438.6,370.9 444.0,368.9 C449.4,366.9 454.9,365.8 460.3,364.9 C465.7,363.9 470.5,364.0 476.6,363.2 C482.7,362.4 490.8,361.4 496.9,359.8 C503.0,358.2 508.5,356.1 513.2,353.7 C518.0,351.3 520.6,349.1 525.4,345.5 C530.1,341.9 536.3,336.9 541.7,332.3 C547.1,327.7 552.6,322.8 558.0,318.0 C563.4,313.2 568.9,308.2 574.3,303.8 C579.7,299.4 585.2,295.2 590.6,291.6 C596.0,288.0 600.7,284.6 606.8,282.4 C612.9,280.2 620.0,278.3 627.2,278.3 C634.4,278.3 642.4,279.8 650.0,282.4 C657.6,285.0 665.2,289.6 673.0,294.2 C680.8,298.8 689.0,304.5 697.0,310.2 C705.0,315.9 713.0,322.8 721.0,328.3 C729.0,333.9 737.1,339.2 745.1,343.5 C753.1,347.8 761.1,351.5 769.1,354.3 C777.1,357.1 783.1,358.3 793.2,360.4 C803.4,362.5 817.1,365.0 830.0,367.0 C842.9,369.0 857.8,370.4 870.7,372.5 C883.6,374.6 898.6,378.4 907.4,379.8 C916.2,381.2 916.8,381.2 923.6,380.7 C930.4,380.2 940.6,379.7 948.1,376.6 C955.6,373.5 963.4,367.1 968.4,362.3 C973.4,357.5 975.3,352.8 978.3,348.0 C981.3,343.2 984.0,339.1 986.5,333.8 C989.0,328.6 991.4,322.3 993.6,316.5 C995.8,310.7 997.7,304.3 999.7,299.2 C1001.7,294.1 1003.8,290.3 1005.8,285.9 C1007.8,281.5 1010.0,277.3 1011.9,272.7 C1013.8,268.1 1015.5,262.2 1017.0,258.5 C1018.5,254.8 1019.1,252.6 1021.1,250.3 C1023.1,248.0 1026.6,246.3 1029.2,244.7 C1031.8,243.1 1035.5,241.4 1036.8,240.7 C1038.1,240.0 1036.0,239.8 1036.8,240.7 C1037.6,241.6 1040.0,243.8 1041.4,246.2 C1042.9,248.6 1044.1,250.1 1045.5,255.4 C1046.9,260.7 1048.2,272.7 1049.6,277.8 C1050.9,282.9 1051.9,283.0 1053.6,285.9 C1055.3,288.8 1057.8,291.7 1059.7,295.1 C1061.6,298.5 1062.9,302.1 1064.8,306.3 C1066.7,310.5 1068.5,316.6 1070.9,320.5 C1073.3,324.4 1076.4,327.7 1079.1,329.7 C1081.8,331.7 1084.7,332.3 1087.2,332.3 C1089.8,332.3 1092.0,329.7 1094.4,329.7 C1096.8,329.7 1098.8,330.6 1101.5,332.3 C1104.2,334.0 1107.0,336.2 1110.6,339.9 C1114.2,343.6 1117.0,347.3 1122.9,354.3 C1128.8,361.3 1140.1,375.7 1145.8,381.8 C1151.5,387.9 1153.4,388.5 1157.2,391.0 C1161.0,393.5 1165.6,395.8 1168.7,396.7 C1171.8,397.6 1171.8,395.9 1175.6,396.7 C1179.4,397.5 1186.6,400.9 1191.6,401.3 C1196.5,401.7 1200.7,399.9 1205.3,399.0 C1209.9,398.1 1213.8,396.2 1219.1,395.6 C1224.4,395.0 1230.5,395.3 1237.4,395.1 C1244.3,394.9 1252.7,394.3 1260.3,394.4 C1267.9,394.5 1274.4,394.7 1283.2,395.6 C1292.0,396.6 1305.4,398.5 1313.0,400.1 C1320.6,401.7 1322.5,403.1 1329.0,405.2 C1335.5,407.3 1343.5,410.3 1351.9,412.7 C1360.3,415.1 1371.8,417.5 1379.4,419.6 C1387.0,421.7 1391.6,423.7 1397.7,425.3 C1403.8,426.9 1410.7,428.3 1416.0,429.5 C1421.3,430.7 1422.2,432.1 1429.7,432.7 C1437.2,433.3 1455.8,433.3 1461.0,433.4"/>
<path d="M204.0,636.0 C210.0,635.6 232.3,634.4 240.0,633.8 C247.7,633.2 245.6,633.0 250.0,632.2 C254.4,631.4 260.5,630.7 266.3,629.2 C272.1,627.7 279.5,625.3 284.6,623.1 C289.7,620.9 292.4,618.9 296.8,616.0 C301.2,613.1 306.4,609.4 311.1,605.8 C315.9,602.2 320.2,598.7 325.3,594.6 C330.4,590.5 336.2,585.4 341.6,581.3 C347.0,577.2 352.1,574.2 357.9,570.1 C363.7,566.0 370.4,561.6 376.2,556.9 C382.0,552.1 387.1,547.0 392.5,541.6 C397.9,536.2 403.7,529.9 408.8,524.3 C413.9,518.7 417.6,514.1 423.0,508.0 C428.4,501.9 434.2,494.1 441.3,487.7 C448.4,481.2 457.7,473.4 465.8,469.3 C473.9,465.2 483.8,463.9 490.2,463.2 C496.6,462.5 498.7,463.4 504.5,465.3 C510.3,467.2 518.9,471.4 524.8,474.4 C530.7,477.4 534.1,479.3 540.0,483.4 C545.9,487.4 553.6,493.6 560.4,498.7 C567.2,503.8 573.9,509.2 580.7,514.0 C587.5,518.8 594.3,523.1 601.1,527.2 C607.9,531.3 614.6,535.0 621.4,538.4 C628.2,541.8 635.0,544.9 641.8,547.6 C648.6,550.3 655.3,552.0 662.1,554.7 C668.9,557.4 677.8,561.7 682.5,563.8 C687.2,565.9 688.1,567.1 690.6,567.5 C693.1,567.9 695.1,565.2 697.8,566.3 C700.5,567.4 702.7,571.2 706.9,574.0 C711.1,576.8 717.1,580.0 723.2,583.2 C729.3,586.4 736.8,590.4 743.6,593.4 C750.4,596.4 757.8,599.8 763.9,601.5 C770.0,603.2 774.1,604.1 780.2,603.6 C786.3,603.1 793.8,601.6 800.6,598.5 C807.4,595.4 815.6,589.1 820.9,585.2 C826.2,581.3 829.0,578.4 832.5,575.0 C836.0,571.6 838.8,568.3 841.7,565.0 C844.6,561.7 847.3,558.8 850.1,555.1 C852.9,551.4 855.7,547.0 858.5,542.9 C861.3,538.8 864.5,534.3 866.9,530.7 C869.3,527.1 869.0,526.8 873.0,521.5 C877.0,516.2 884.7,507.0 891.1,499.2 C897.5,491.4 904.6,481.2 911.4,474.8 C918.2,468.4 925.0,463.4 931.8,460.5 C938.6,457.6 943.3,457.3 952.1,457.3 C960.9,457.3 974.5,460.6 984.7,460.5 C994.9,460.4 1005.1,457.7 1013.2,456.5 C1021.4,455.3 1026.8,452.9 1033.6,453.2 C1040.4,453.5 1047.1,454.6 1053.9,458.5 C1060.7,462.4 1067.5,470.0 1074.3,476.8 C1081.1,483.6 1087.9,492.8 1094.7,499.2 C1101.5,505.6 1107.5,509.4 1115.0,515.5 C1122.5,521.6 1131.3,527.8 1139.5,535.9 C1147.7,544.0 1155.8,554.9 1163.9,564.4 C1172.0,573.9 1180.2,584.1 1188.3,592.9 C1196.4,601.7 1204.5,610.9 1212.7,617.3 C1220.9,623.7 1229.1,628.3 1237.2,631.5 C1245.3,634.7 1248.0,635.6 1261.6,636.4 C1275.2,637.2 1295.5,636.6 1318.6,636.4 C1341.7,636.2 1376.3,635.5 1400.0,635.2 C1423.7,634.9 1450.8,634.5 1461.0,634.4"/>
<path d="M204.0,843.8 C216.7,843.6 260.8,843.3 280.2,842.6 C299.6,841.9 308.2,840.8 320.2,839.4 C332.2,838.0 342.9,836.6 352.3,834.5 C361.7,832.4 368.4,830.0 376.4,826.5 C384.4,823.0 392.4,818.7 400.4,813.7 C408.4,808.7 416.4,803.3 424.4,796.4 C432.4,789.5 440.5,780.8 448.5,772.4 C456.5,764.0 464.5,755.0 472.5,746.3 C480.5,737.6 488.6,728.2 496.6,720.2 C504.6,712.2 512.6,704.6 520.6,698.2 C528.6,691.9 537.4,685.6 544.7,682.1 C552.1,678.6 558.0,677.4 564.7,677.3 C571.4,677.2 577.4,678.1 584.8,681.3 C592.1,684.4 600.8,689.7 608.8,696.2 C616.8,702.7 624.9,711.9 632.9,720.2 C640.9,728.6 648.9,737.6 656.9,746.3 C664.9,755.0 673.0,764.4 681.0,772.4 C689.0,780.4 697.0,788.5 705.0,794.4 C713.0,800.3 721.1,804.6 729.1,807.7 C737.1,810.9 743.8,811.8 753.1,813.3 C762.5,814.8 772.4,815.4 785.2,816.5 C798.0,817.6 820.5,818.9 830.0,820.0 C839.5,821.1 838.1,823.3 842.2,823.2 C846.3,823.1 849.0,820.9 854.4,819.2 C859.8,817.5 868.7,816.1 874.8,813.0 C880.9,809.9 885.7,806.6 891.1,800.8 C896.5,795.0 902.0,788.2 907.4,778.4 C912.8,768.6 918.2,753.3 923.6,741.8 C929.0,730.3 935.1,717.4 939.9,709.2 C944.6,701.1 948.0,696.6 952.1,692.9 C956.2,689.2 960.3,686.1 964.4,686.8 C968.5,687.5 971.9,691.2 976.6,697.0 C981.4,702.8 987.5,713.6 992.9,721.4 C998.3,729.2 1003.8,737.8 1009.2,743.8 C1014.6,749.8 1019.3,754.4 1025.4,757.3 C1031.5,760.2 1039.7,760.3 1045.8,761.3 C1051.9,762.2 1056.0,761.2 1062.1,763.0 C1068.2,764.8 1074.9,766.7 1082.4,772.3 C1089.9,777.9 1099.4,789.3 1106.9,796.8 C1114.4,804.3 1121.7,812.2 1127.2,817.1 C1132.7,822.0 1135.8,825.2 1140.0,826.2 C1144.2,827.2 1148.1,825.3 1152.2,823.1 C1156.3,820.9 1160.3,817.2 1164.4,813.0 C1168.5,808.8 1172.5,803.1 1176.6,797.7 C1180.7,792.3 1184.8,786.7 1188.9,780.4 C1193.0,774.1 1197.0,766.1 1201.1,760.0 C1205.2,753.9 1209.2,748.7 1213.3,743.8 C1217.4,738.9 1221.4,733.7 1225.5,730.5 C1229.6,727.3 1234.3,725.1 1237.7,724.4 C1241.1,723.7 1241.8,726.1 1245.9,726.1 C1250.0,726.1 1256.0,724.2 1262.1,724.4 C1268.2,724.6 1275.7,725.8 1282.5,727.5 C1289.3,729.2 1296.1,731.7 1302.9,734.6 C1309.7,737.5 1316.4,741.1 1323.2,744.8 C1330.0,748.5 1337.1,753.1 1343.6,757.0 C1350.0,760.9 1356.8,764.3 1361.9,768.2 C1367.0,772.1 1369.7,776.0 1374.1,780.4 C1378.5,784.8 1383.2,789.3 1388.3,794.6 C1393.4,799.9 1399.8,807.1 1404.6,812.0 C1409.3,816.9 1412.7,820.0 1416.8,824.2 C1420.9,828.4 1425.6,834.2 1429.0,837.4 C1432.4,840.6 1433.5,842.8 1437.2,843.5 C1441.0,844.2 1447.5,841.7 1451.5,841.5 C1455.5,841.3 1459.4,842.3 1461.0,842.5"/>
<path d="M204.0,1046.6 C213.3,1046.5 240.7,1046.6 260.1,1045.8 C279.5,1045.0 303.5,1043.5 320.2,1041.8 C336.9,1040.0 350.3,1037.3 360.3,1035.3 C370.3,1033.3 373.3,1032.2 380.0,1030.0 C386.7,1027.8 393.6,1025.0 400.4,1021.9 C407.2,1018.9 413.9,1015.6 420.7,1011.7 C427.5,1007.8 434.3,1003.2 441.1,998.5 C447.9,993.8 455.3,988.3 461.4,983.2 C467.5,978.1 472.3,973.2 477.7,967.9 C483.1,962.6 488.6,957.4 494.0,951.6 C499.4,945.8 504.9,939.4 510.3,933.3 C515.7,927.2 521.2,920.6 526.6,915.0 C532.0,909.4 537.5,904.6 542.9,899.7 C548.3,894.8 553.7,889.4 559.1,885.5 C564.5,881.6 570.0,878.3 575.4,876.3 C580.8,874.2 586.3,872.9 591.7,873.2 C597.1,873.5 602.6,875.6 608.0,878.3 C613.4,881.0 618.9,885.1 624.3,889.5 C629.7,893.9 635.2,899.2 640.6,904.8 C646.0,910.4 651.4,917.2 656.8,923.1 C662.2,929.0 667.7,935.0 673.1,940.4 C678.5,945.8 684.1,951.4 689.4,955.7 C694.7,960.0 699.0,963.1 705.0,966.4 C711.0,969.7 717.1,973.6 725.1,975.6 C733.1,977.6 743.8,977.8 753.1,978.4 C762.5,979.0 771.9,978.2 781.2,979.2 C790.6,980.2 802.7,982.8 809.2,984.4 C815.7,986.0 814.6,987.0 820.0,988.6 C825.4,990.2 834.4,992.6 841.6,994.0 C848.8,995.4 856.1,997.0 863.3,996.8 C870.5,996.6 877.7,995.2 884.9,992.9 C892.1,990.6 899.3,986.8 906.5,983.2 C913.7,979.6 920.9,975.3 928.1,971.3 C935.3,967.3 942.6,963.2 949.8,959.4 C957.0,955.6 964.2,951.8 971.4,948.6 C978.6,945.4 985.8,942.4 993.0,940.0 C1000.2,937.6 1007.5,935.4 1014.7,934.1 C1021.9,932.8 1029.1,932.0 1036.3,932.4 C1043.5,932.8 1050.7,934.5 1057.9,936.7 C1065.1,938.9 1072.3,942.1 1079.5,945.4 C1086.7,948.6 1094.0,952.8 1101.2,956.2 C1108.4,959.6 1116.3,963.9 1122.8,965.9 C1129.3,967.9 1133.9,969.2 1140.1,968.1 C1146.3,967.0 1153.3,963.8 1160.0,959.4 C1166.7,955.0 1173.5,948.5 1180.2,941.8 C1187.0,935.1 1194.4,924.7 1200.5,919.4 C1206.6,914.1 1212.0,911.0 1216.8,910.0 C1221.5,909.0 1224.2,909.4 1229.0,913.3 C1233.8,917.2 1239.2,924.1 1245.3,933.6 C1251.4,943.1 1258.9,958.1 1265.7,970.3 C1272.5,982.5 1279.2,997.1 1286.0,1006.9 C1292.8,1016.7 1298.9,1023.5 1306.4,1029.3 C1313.9,1035.1 1322.0,1038.8 1330.8,1041.5 C1339.6,1044.2 1337.6,1044.8 1359.3,1045.6 C1381.0,1046.4 1444.0,1046.3 1461.0,1046.4"/>
<path d="M204.0,1243.4 C210.0,1243.1 227.3,1242.8 240.0,1241.8 C252.7,1240.8 266.8,1239.3 280.2,1237.4 C293.6,1235.5 310.2,1232.4 320.2,1230.5 C330.2,1228.6 333.4,1227.6 340.0,1226.0 C346.6,1224.4 353.3,1223.2 360.0,1221.0 C366.7,1218.8 373.6,1215.7 380.4,1212.8 C387.2,1209.9 393.9,1206.8 400.7,1203.6 C407.5,1200.4 414.3,1197.2 421.1,1193.5 C427.9,1189.8 435.0,1185.5 441.4,1181.2 C447.8,1177.0 453.6,1172.8 459.7,1168.0 C465.8,1163.2 472.3,1157.8 478.1,1152.7 C483.9,1147.6 489.0,1142.8 494.4,1137.5 C499.8,1132.2 505.2,1126.6 510.6,1121.2 C516.0,1115.8 521.5,1110.2 526.9,1104.9 C532.3,1099.6 537.1,1094.9 543.2,1089.6 C549.3,1084.3 557.5,1077.2 563.6,1073.3 C569.7,1069.4 574.4,1067.5 579.8,1066.2 C585.2,1064.9 590.3,1064.4 596.1,1065.2 C601.9,1066.0 608.0,1068.1 614.5,1071.3 C621.0,1074.5 628.0,1079.4 634.8,1084.5 C641.6,1089.6 649.1,1096.5 655.2,1101.8 C661.3,1107.1 665.5,1110.5 671.5,1116.1 C677.5,1121.7 683.6,1129.4 690.9,1135.3 C698.2,1141.2 706.8,1147.0 715.3,1151.6 C723.8,1156.2 732.3,1159.6 741.8,1162.8 C751.3,1166.0 762.8,1168.4 772.3,1170.9 C781.8,1173.5 790.3,1175.5 798.8,1178.1 C807.3,1180.6 815.7,1183.6 823.2,1186.2 C830.7,1188.8 836.8,1191.2 843.6,1193.7 C850.4,1196.2 857.1,1199.1 863.9,1201.5 C870.7,1203.9 877.5,1206.1 884.3,1208.0 C891.1,1209.9 897.8,1211.2 904.6,1212.7 C911.4,1214.2 918.2,1215.9 925.0,1216.8 C931.8,1217.7 938.6,1218.2 945.3,1218.2 C952.0,1218.2 958.4,1217.2 965.0,1216.5 C971.6,1215.8 973.3,1216.0 984.7,1213.9 C996.1,1211.8 1018.7,1206.7 1033.6,1203.7 C1048.5,1200.7 1060.7,1197.9 1074.3,1196.0 C1087.9,1194.1 1104.0,1193.0 1115.0,1192.3 C1126.0,1191.6 1132.4,1191.5 1140.0,1191.6 C1147.6,1191.6 1153.6,1192.4 1160.4,1192.6 C1167.2,1192.8 1173.9,1193.1 1180.7,1192.6 C1187.5,1192.1 1194.3,1191.2 1201.1,1189.5 C1207.9,1187.8 1214.6,1184.3 1221.4,1182.4 C1228.2,1180.5 1235.7,1178.6 1241.8,1178.3 C1247.9,1178.0 1252.7,1178.4 1258.1,1180.4 C1263.5,1182.4 1268.6,1186.8 1274.4,1190.5 C1280.2,1194.2 1286.3,1199.2 1292.7,1202.8 C1299.1,1206.4 1306.2,1209.4 1313.0,1211.9 C1319.8,1214.4 1326.6,1216.1 1333.4,1218.0 C1340.2,1219.9 1345.2,1220.9 1353.7,1223.1 C1362.2,1225.3 1374.1,1228.9 1384.3,1231.3 C1394.5,1233.7 1402.0,1235.7 1414.8,1237.4 C1427.6,1239.1 1453.3,1240.9 1461.0,1241.6"/>
<path d="M204.0,1424.2 C210.0,1424.3 224.0,1425.2 240.0,1425.0 C256.0,1424.8 283.5,1423.8 300.2,1423.0 C316.9,1422.2 330.3,1421.1 340.3,1420.0 C350.3,1418.9 353.3,1417.9 360.0,1416.4 C366.7,1415.0 373.6,1413.2 380.4,1411.3 C387.2,1409.4 393.9,1407.8 400.7,1405.2 C407.5,1402.7 414.3,1399.2 421.1,1396.0 C427.9,1392.8 434.6,1389.5 441.4,1385.8 C448.2,1382.1 455.0,1378.0 461.8,1373.6 C468.6,1369.2 475.3,1364.5 482.1,1359.4 C488.9,1354.3 495.7,1348.7 502.5,1343.1 C509.3,1337.5 516.1,1331.2 522.9,1325.8 C529.7,1320.4 536.4,1314.9 543.2,1310.5 C550.0,1306.1 557.5,1301.7 563.6,1299.3 C569.7,1296.9 574.4,1296.3 579.8,1296.3 C585.2,1296.3 590.3,1297.3 596.1,1299.3 C601.9,1301.3 608.0,1304.4 614.5,1308.5 C621.0,1312.6 628.0,1318.4 634.8,1323.8 C641.6,1329.2 649.1,1336.3 655.2,1341.1 C661.3,1345.8 667.2,1349.6 671.5,1352.3 C675.8,1355.0 674.8,1354.5 681.0,1357.5 C687.2,1360.5 699.0,1366.4 709.0,1370.2 C719.0,1374.0 730.4,1377.2 741.1,1380.2 C751.8,1383.2 763.1,1385.9 773.1,1388.2 C783.1,1390.5 791.7,1391.7 801.2,1394.2 C810.7,1396.8 822.5,1401.5 830.0,1403.5 C837.5,1405.5 840.2,1406.5 846.3,1406.1 C852.4,1405.6 859.8,1405.4 866.6,1400.8 C873.4,1396.2 880.2,1387.9 887.0,1378.4 C893.8,1368.9 900.6,1356.7 907.4,1343.8 C914.2,1330.9 921.6,1313.3 927.7,1301.1 C933.8,1288.9 938.6,1278.0 944.0,1270.5 C949.4,1263.0 955.5,1259.0 960.3,1256.3 C965.0,1253.6 967.8,1253.6 972.5,1254.3 C977.2,1255.0 982.0,1256.0 988.8,1260.4 C995.6,1264.8 1003.7,1272.9 1013.2,1280.7 C1022.7,1288.5 1034.3,1299.7 1045.8,1307.2 C1057.3,1314.7 1070.9,1318.7 1082.4,1325.5 C1093.9,1332.3 1105.5,1340.8 1115.0,1347.9 C1124.5,1355.0 1131.3,1363.0 1139.5,1368.3 C1147.7,1373.6 1156.5,1377.7 1163.9,1379.7 C1171.4,1381.7 1176.1,1382.8 1184.2,1380.5 C1192.3,1378.2 1203.9,1371.0 1212.7,1366.2 C1221.5,1361.5 1229.1,1355.6 1237.2,1352.0 C1245.3,1348.4 1254.1,1345.3 1261.6,1344.6 C1269.0,1343.9 1273.8,1344.6 1281.9,1347.9 C1290.1,1351.2 1301.0,1357.4 1310.5,1364.2 C1320.0,1371.0 1329.5,1381.1 1339.0,1388.6 C1348.5,1396.1 1357.3,1403.6 1367.5,1409.0 C1377.7,1414.4 1389.2,1418.5 1400.0,1421.2 C1410.8,1423.9 1422.4,1424.8 1432.6,1425.3 C1442.8,1425.8 1456.3,1424.2 1461.0,1424.0"/>
<path d="M204.0,1623.2 C210.0,1623.1 227.3,1623.4 240.0,1622.8 C252.7,1622.2 266.8,1621.0 280.2,1619.6 C293.6,1618.2 310.3,1616.2 320.2,1614.4 C330.1,1612.7 333.1,1611.1 339.7,1609.1 C346.3,1607.1 354.1,1604.8 360.0,1602.6 C365.9,1600.4 370.2,1598.5 375.3,1595.7 C380.4,1592.9 385.2,1589.6 390.5,1585.8 C395.8,1582.0 401.7,1577.6 407.3,1572.8 C412.9,1568.0 418.5,1562.6 424.1,1556.8 C429.7,1551.0 435.3,1544.1 440.9,1537.7 C446.5,1531.3 451.8,1525.2 457.7,1518.6 C463.6,1512.0 469.9,1504.9 476.0,1498.0 C482.1,1491.1 488.8,1483.5 494.4,1477.4 C500.0,1471.3 504.3,1466.0 509.6,1461.4 C514.9,1456.8 520.8,1452.5 526.4,1449.9 C532.0,1447.4 537.9,1446.3 543.2,1446.1 C548.6,1445.8 553.4,1446.9 558.5,1448.4 C563.6,1449.9 568.4,1451.8 573.7,1455.3 C579.0,1458.8 585.9,1465.3 590.4,1469.3 C594.9,1473.2 597.1,1475.6 600.5,1479.0 C603.9,1482.4 607.3,1486.4 610.7,1489.7 C614.1,1493.0 617.5,1495.7 620.9,1498.9 C624.3,1502.1 627.7,1505.6 631.1,1509.0 C634.5,1512.4 637.6,1515.9 641.2,1519.2 C644.9,1522.5 648.4,1525.4 653.0,1528.6 C657.6,1531.8 662.3,1534.9 668.7,1538.4 C675.1,1541.9 684.0,1546.8 691.6,1549.8 C699.2,1552.8 706.9,1554.8 714.5,1556.7 C722.1,1558.6 729.8,1559.4 737.4,1561.3 C745.0,1563.2 752.7,1565.9 760.3,1568.2 C767.9,1570.5 775.6,1572.7 783.2,1575.0 C790.8,1577.3 798.5,1579.8 806.1,1581.9 C813.7,1584.0 821.4,1586.3 829.0,1587.6 C836.6,1588.9 844.3,1589.5 851.9,1589.5 C859.5,1589.5 867.2,1588.9 874.8,1587.6 C882.4,1586.3 890.1,1584.6 897.7,1581.9 C905.3,1579.2 913.4,1574.7 920.6,1571.6 C927.8,1568.5 934.0,1566.5 940.7,1563.3 C947.5,1560.0 954.3,1555.8 961.1,1552.1 C967.9,1548.4 974.6,1544.6 981.4,1540.9 C988.2,1537.2 995.0,1533.4 1001.8,1530.2 C1008.6,1527.0 1015.3,1524.1 1022.1,1521.6 C1028.9,1519.1 1035.8,1517.3 1042.5,1515.4 C1049.2,1513.5 1054.8,1511.5 1062.1,1510.4 C1069.4,1509.3 1077.7,1508.6 1086.5,1508.8 C1095.3,1509.0 1106.2,1510.9 1115.0,1511.7 C1123.8,1512.5 1132.7,1514.1 1139.5,1513.7 C1146.3,1513.3 1150.3,1513.0 1155.7,1509.6 C1161.1,1506.2 1166.6,1500.4 1172.0,1493.3 C1177.4,1486.2 1183.5,1474.2 1188.3,1466.9 C1193.0,1459.6 1196.8,1453.2 1200.5,1449.3 C1204.2,1445.4 1207.0,1443.7 1210.7,1443.6 C1214.4,1443.5 1218.5,1443.3 1222.9,1448.5 C1227.3,1453.7 1232.1,1463.8 1237.2,1475.0 C1242.3,1486.2 1248.0,1502.5 1253.4,1515.7 C1258.8,1528.9 1264.3,1543.5 1269.7,1554.4 C1275.1,1565.3 1280.6,1574.0 1286.0,1580.9 C1291.4,1587.8 1294.8,1591.5 1302.3,1596.0 C1309.8,1600.5 1319.3,1604.6 1330.8,1608.2 C1342.3,1611.8 1358.6,1615.3 1371.5,1617.6 C1384.4,1619.8 1393.3,1620.9 1408.2,1621.7 C1423.1,1622.5 1452.2,1622.4 1461.0,1622.5"/>
</g>
<g stroke="#000" stroke-width="6" fill="none" stroke-linecap="butt">
<line x1="201.9" y1="27.3" x2="1461" y2="27.3"/>
<line x1="201.6" y1="27.2" x2="201.6" y2="646.5"/>
<line x1="201.6" y1="650.3" x2="201.6" y2="1644"/>
<line x1="1461" y1="27.2" x2="1461" y2="646.5"/>
<line x1="1461" y1="650.3" x2="1461" y2="1644"/>
<line x1="198.5" y1="1641" x2="1464" y2="1641"/>
<line x1="201.6" y1="1641" x2="201.6" y2="1673.5"/>
<line x1="229.6" y1="1641" x2="229.6" y2="1657"/>
<line x1="257.6" y1="1641" x2="257.6" y2="1657"/>
<line x1="285.6" y1="1641" x2="285.6" y2="1657"/>
<line x1="313.6" y1="1641" x2="313.6" y2="1657"/>
<line x1="341.6" y1="1641" x2="341.6" y2="1673.5"/>
<line x1="369.6" y1="1641" x2="369.6" y2="1657"/>
<line x1="397.6" y1="1641" x2="397.6" y2="1657"/>
<line x1="425.6" y1="1641" x2="425.6" y2="1657"/>
<line x1="453.6" y1="1641" x2="453.6" y2="1657"/>
<line x1="481.6" y1="1641" x2="481.6" y2="1673.5"/>
<line x1="509.6" y1="1641" x2="509.6" y2="1657"/>
<line x1="537.6" y1="1641" x2="537.6" y2="1657"/>
<line x1="565.6" y1="1641" x2="565.6" y2="1657"/>
<line x1="593.6" y1="1641" x2="593.6" y2="1657"/>
<line x1="621.6" y1="1641" x2="621.6" y2="1673.5"/>
<line x1="649.6" y1="1641" x2="649.6" y2="1657"/>
<line x1="677.6" y1="1641" x2="677.6" y2="1657"/>
<line x1="705.6" y1="1641" x2="705.6" y2="1657"/>
<line x1="733.6" y1="1641" x2="733.6" y2="1657"/>
<line x1="761.6" y1="1641" x2="761.6" y2="1673.5"/>
<line x1="789.6" y1="1641" x2="789.6" y2="1657"/>
<line x1="817.6" y1="1641" x2="817.6" y2="1657"/>
<line x1="845.6" y1="1641" x2="845.6" y2="1657"/>
<line x1="873.6" y1="1641" x2="873.6" y2="1657"/>
<line x1="901.6" y1="1641" x2="901.6" y2="1673.5"/>
<line x1="929.6" y1="1641" x2="929.6" y2="1657"/>
<line x1="957.6" y1="1641" x2="957.6" y2="1657"/>
<line x1="985.6" y1="1641" x2="985.6" y2="1657"/>
<line x1="1013.6" y1="1641" x2="1013.6" y2="1657"/>
<line x1="1041.6" y1="1641" x2="1041.6" y2="1673.5"/>
<line x1="1069.6" y1="1641" x2="1069.6" y2="1657"/>
<line x1="1097.6" y1="1641" x2="1097.6" y2="1657"/>
<line x1="1125.6" y1="1641" x2="1125.6" y2="1657"/>
<line x1="1153.6" y1="1641" x2="1153.6" y2="1657"/>
<line x1="1181.6" y1="1641" x2="1181.6" y2="1673.5"/>
<line x1="1209.6" y1="1641" x2="1209.6" y2="1657"/>
<line x1="1237.6" y1="1641" x2="1237.6" y2="1657"/>
<line x1="1265.6" y1="1641" x2="1265.6" y2="1657"/>
<line x1="1293.6" y1="1641" x2="1293.6" y2="1657"/>
<line x1="1321.6" y1="1641" x2="1321.6" y2="1673.5"/>
<line x1="1349.6" y1="1641" x2="1349.6" y2="1657"/>
<line x1="1377.6" y1="1641" x2="1377.6" y2="1657"/>
<line x1="1405.6" y1="1641" x2="1405.6" y2="1657"/>
<line x1="1433.6" y1="1641" x2="1433.6" y2="1657"/>
<line x1="1461.6" y1="1641" x2="1461.6" y2="1673.5"/>
</g>
<g font-family="Liberation Sans, Arial, sans-serif" font-size="70" fill="#000" style="font-kerning:none">
<text id="tc0" clip-path="url(#c0)" x="143.20" y="0" transform="translate(0,1750.6) scale(1,1.025)"><tspan dx="3.00">1</tspan><tspan dx="-3.00">00</tspan></text>
<text x="283.20" y="0" transform="translate(0,1750.6) scale(1,1.025)">200</text>
<text x="423.20" y="0" transform="translate(0,1750.6) scale(1,1.025)">300</text>
<text x="563.20" y="0" transform="translate(0,1750.6) scale(1,1.025)">400</text>
<text x="703.20" y="0" transform="translate(0,1750.6) scale(1,1.025)">500</text>
<text x="843.20" y="0" transform="translate(0,1750.6) scale(1,1.025)">600</text>
<text x="983.20" y="0" transform="translate(0,1750.6) scale(1,1.025)">700</text>
<text x="1123.20" y="0" transform="translate(0,1750.6) scale(1,1.025)">800</text>
<text x="1263.20" y="0" transform="translate(0,1750.6) scale(1,1.025)">900</text>
<text id="tc1" clip-path="url(#c1)" x="1383.74" y="0" transform="translate(0,1750.6) scale(1,1.025)"><tspan dx="3.00">1</tspan><tspan dx="-3.00">000</tspan></text>
</g>
<g font-family="Liberation Sans, Arial, sans-serif" font-size="70.5" fill="#000" style="font-kerning:none">
<text id="tc2" clip-path="url(#c2)" x="665.2" y="0" textLength="516.8" lengthAdjust="spacing" transform="translate(0,134.0) scale(1,1.03)">Lu-Cu-SAPO-<tspan dx="3.00">1</tspan><tspan dx="-3.00">8</tspan></text>
<text id="tc3" clip-path="url(#c3)" x="659.2" y="0" textLength="524.0" lengthAdjust="spacing" transform="translate(0,295.5) scale(1,1.03)">Ho-Cu-SAPO-<tspan dx="3.00">1</tspan><tspan dx="-3.00">8</tspan></text>
<text id="tc4" clip-path="url(#c4)" x="673.4" y="0" textLength="518.0" lengthAdjust="spacing" transform="translate(0,535.2) scale(1,1.03)">Tb-Cu-SAPO-<tspan dx="3.00">1</tspan><tspan dx="-3.00">8</tspan></text>
<text id="tc5" clip-path="url(#c5)" x="653.5" y="0" textLength="530.6" lengthAdjust="spacing" transform="translate(0,707.8) scale(1,1.03)">Gd-Cu-SAPO-<tspan dx="3.00">1</tspan><tspan dx="-3.00">8</tspan></text>
<text id="tc6" clip-path="url(#c6)" x="689.2" y="0" textLength="524.5" lengthAdjust="spacing" transform="translate(0,924.6) scale(1,1.03)">Nd-Cu-SAPO-<tspan dx="3.00">1</tspan><tspan dx="-3.00">8</tspan></text>
<text id="tc7" clip-path="url(#c7)" x="703.4" y="0" textLength="526.6" lengthAdjust="spacing" transform="translate(0,1131.8) scale(1,1.03)">Ce-Cu-SAPO-<tspan dx="3.00">1</tspan><tspan dx="-3.00">8</tspan></text>
<text id="tc8" clip-path="url(#c8)" x="671.2" y="0" textLength="512.8" lengthAdjust="spacing" transform="translate(0,1308.6) scale(1,1.03)">La-Cu-SAPO-<tspan dx="3.00">1</tspan><tspan dx="-3.00">8</tspan></text>
<text id="tc9" clip-path="url(#c9)" x="663.4" y="0" textLength="409.8" lengthAdjust="spacing" transform="translate(0,1515.0) scale(1,1.03)">Cu-SAPO-<tspan dx="3.00">1</tspan><tspan dx="-3.00">8</tspan></text>
</g>
<defs>
<clipPath id="c0" clipPathUnits="userSpaceOnUse"><path clip-rule="evenodd" d="M-2000,-3000H4000V3000H-2000Z M149.83,-5.93H163.70V1.20H149.83Z M170.09,-5.93H182.92V1.20H170.09Z"/></clipPath>
<clipPath id="c1" clipPathUnits="userSpaceOnUse"><path clip-rule="evenodd" d="M-2000,-3000H4000V3000H-2000Z M1390.37,-5.93H1404.24V1.20H1390.37Z M1410.63,-5.93H1423.46V1.20H1410.63Z"/></clipPath>
<clipPath id="c2" clipPathUnits="userSpaceOnUse"><path clip-rule="evenodd" d="M-2000,-3000H4000V3000H-2000Z M1109.96,-5.97H1123.92V1.20H1109.96Z M1130.35,-5.97H1143.27V1.20H1130.35Z"/></clipPath>
<clipPath id="c3" clipPathUnits="userSpaceOnUse"><path clip-rule="evenodd" d="M-2000,-3000H4000V3000H-2000Z M1111.53,-5.97H1125.50V1.20H1111.53Z M1131.93,-5.97H1144.84V1.20H1131.93Z"/></clipPath>
<clipPath id="c4" clipPathUnits="userSpaceOnUse"><path clip-rule="evenodd" d="M-2000,-3000H4000V3000H-2000Z M1119.58,-5.97H1133.55V1.20H1119.58Z M1139.98,-5.97H1152.89V1.20H1139.98Z"/></clipPath>
<clipPath id="c5" clipPathUnits="userSpaceOnUse"><path clip-rule="evenodd" d="M-2000,-3000H4000V3000H-2000Z M1112.21,-5.97H1126.17V1.20H1112.21Z M1132.61,-5.97H1145.52V1.20H1132.61Z"/></clipPath>
<clipPath id="c6" clipPathUnits="userSpaceOnUse"><path clip-rule="evenodd" d="M-2000,-3000H4000V3000H-2000Z M1141.99,-5.97H1155.96V1.20H1141.99Z M1162.39,-5.97H1175.30V1.20H1162.39Z"/></clipPath>
<clipPath id="c7" clipPathUnits="userSpaceOnUse"><path clip-rule="evenodd" d="M-2000,-3000H4000V3000H-2000Z M1158.12,-5.97H1172.08V1.20H1158.12Z M1178.51,-5.97H1191.43V1.20H1178.51Z"/></clipPath>
<clipPath id="c8" clipPathUnits="userSpaceOnUse"><path clip-rule="evenodd" d="M-2000,-3000H4000V3000H-2000Z M1112.29,-5.97H1126.26V1.20H1112.29Z M1132.69,-5.97H1145.60V1.20H1132.69Z"/></clipPath>
<clipPath id="c9" clipPathUnits="userSpaceOnUse"><path clip-rule="evenodd" d="M-2000,-3000H4000V3000H-2000Z M1001.63,-5.97H1015.59V1.20H1001.63Z M1022.02,-5.97H1034.94V1.20H1022.02Z"/></clipPath>
</defs>
<g font-family="Liberation Sans, Arial, sans-serif" font-weight="bold" fill="#000" style="font-kerning:none">
<text x="0" y="0" font-size="100.0" transform="translate(517.97,1848.90) scale(0.8321,0.9012)">T</text>
<text x="0" y="0" font-size="100.0" transform="translate(568.95,1848.90) scale(0.8564,0.8615)">emperature</text>
<text x="0" y="0" font-size="100.0" transform="translate(1060.66,1849.04) scale(0.7512,0.8701)">(</text>
<text x="0" y="0" font-size="100.0" transform="translate(1087.96,1806.29) scale(0.5219,0.5202)">o</text>
<text x="0" y="0" font-size="100.0" transform="translate(1120.62,1849.12) scale(0.8229,0.9039)">C</text>
<text x="0" y="0" font-size="100.0" transform="translate(1184.93,1849.04) scale(0.7547,0.8701)">)</text>
</g>
<g font-family="Liberation Sans, Arial, sans-serif" font-weight="bold" fill="#000" style="font-kerning:none" transform="translate(154,1340.3) rotate(-90) scale(1,1.04)">
<text x="0" y="0" font-size="85">H</text>
<text x="61.0" y="27.9" font-size="51.8">2</text>
<text x="92.1" y="0" font-size="85">-</text>
<text x="143.3" y="0" font-size="85" textLength="539.0" lengthAdjust="spacing">consumption</text>
<text x="708.4" y="0" font-size="85" textLength="227.5" lengthAdjust="spacing">(a. u.)</text>
</g>
<g stroke-width="6" fill="none">
<line x1="25.4" y1="59.5" x2="107" y2="59.5" stroke="#ff0000" stroke-dasharray="24 33.5"/>
<line x1="25.4" y1="157" x2="126.5" y2="157" stroke="#008000" stroke-dasharray="29.3 19 4 20"/>
<line x1="25.4" y1="254.7" x2="121" y2="254.7" stroke="#0000ff" stroke-dasharray="1 10.7" opacity="0.7" stroke-width="6.4"/>
</g>
<g font-family="Noto Serif CJK SC, Liberation Serif, serif" font-weight="bold" fill="#000">
<text x="0" y="0" font-size="65" transform="translate(147.6,77.2) scale(1.14,1)">α</text>
<text x="146.6" y="176.3" font-size="65.7">β</text>
<text x="0" y="0" font-size="67" transform="translate(147.1,272.3) scale(0.92,1)">γ</text>
</g>
</svg></body></html>
